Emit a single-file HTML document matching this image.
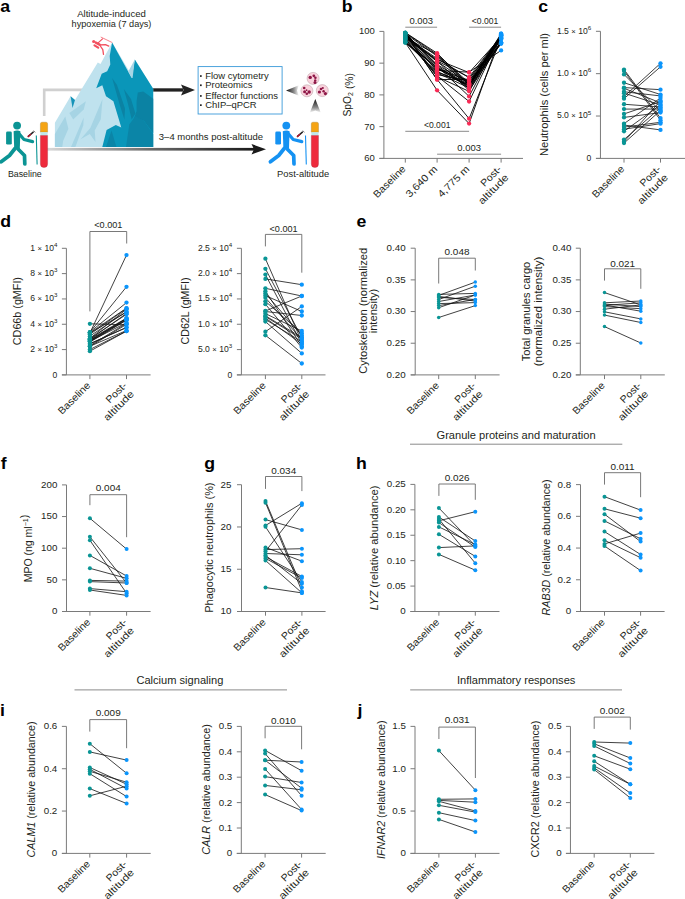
<!DOCTYPE html>
<html><head><meta charset="utf-8"><title>Figure</title>
<style>
html,body{margin:0;padding:0;background:#fff;}
svg{display:block;}
text{font-family:"Liberation Sans",sans-serif;}
</style></head><body>
<svg width="685" height="899" viewBox="0 0 685 899">
<rect width="685" height="899" fill="#fff"/>
<text transform="translate(0.30,12.20) scale(1.040,1)" font-size="17" text-anchor="start" font-weight="bold" fill="#000">a</text>
<text transform="translate(111.50,16.60) scale(1.030,1)" font-size="9.3" text-anchor="middle" font-weight="normal" fill="#231f20">Altitude-induced</text>
<text transform="translate(111.50,26.50) scale(0.985,1)" font-size="9.3" text-anchor="middle" font-weight="normal" fill="#231f20">hypoxemia (7 days)</text>
<defs>
<linearGradient id="g1" x1="0" y1="0" x2="1" y2="0"><stop offset="0" stop-color="#cfcfcf"/><stop offset="0.45" stop-color="#9a9a9a"/><stop offset="1" stop-color="#1a1a1a"/></linearGradient>
<linearGradient id="g2" x1="0" y1="0" x2="1" y2="0"><stop offset="0" stop-color="#d8d8d8"/><stop offset="0.5" stop-color="#6a6a6a"/><stop offset="1" stop-color="#1a1a1a"/></linearGradient>
<linearGradient id="g3" x1="1" y1="0" x2="0" y2="0"><stop offset="0" stop-color="#ffffff"/><stop offset="0.4" stop-color="#888"/><stop offset="1" stop-color="#111"/></linearGradient>
<linearGradient id="g4" x1="0" y1="1" x2="0" y2="0"><stop offset="0" stop-color="#ffffff"/><stop offset="0.4" stop-color="#888"/><stop offset="1" stop-color="#111"/></linearGradient>
</defs>
<polyline points="44.2,116 44.2,89.9 152,89.9" fill="none" stroke="#d0d0d0" stroke-width="2.6"/>
<rect x="150" y="88.3" width="33" height="3.3" fill="#222"/>
<polygon points="181,84.6 195,90.1 181,95.6 183.5,90.1" fill="#222"/>
<rect x="47" y="147.9" width="207" height="2.7" fill="url(#g2)"/>
<polygon points="251.5,144 266,149.2 251.5,154.5 254,149.2" fill="#1a1a1a"/>
<polygon points="112.2,42.6 132.8,77.3 135.1,59.8 153.2,88.7 153.2,147 54.9,147 54.9,122.8 70.6,96.2 75,100 97.8,62.4 100.5,64" fill="#bfe2ee"/>
<polygon points="75,100 70.6,96.2 72.5,108" fill="#1593b8"/>
<polygon points="69.3,113 85.9,101.2 83.7,109.5 73.2,119.6" fill="#a6d4e4"/>
<polygon points="54.9,134 65.3,116.5 68.4,128.8 63.1,141 62.3,147 54.9,147" fill="#a6d4e4"/>
<polygon points="71,147 83.7,117.4 83.3,125.3 75.4,147" fill="#a6d4e4"/>
<polygon points="102.5,99 100.8,119.2 94.7,130.5 95.5,141.9 89.8,134 80.6,139.3 90.3,127.9" fill="#a6d4e4"/>
<polygon points="112.1,42.4 131.7,78 134.8,59.6 153.2,88.7 153.2,147 102.3,147 106.6,130 115.8,125 121.3,127.5 113.4,101.2 106,96.3 102.3,85.3 96.2,88.3 101.7,73.7 107.2,71.2 110.3,64.5 109.7,55.9" fill="#0a96b9"/>
<polygon points="128.3,71.5 134.8,59.6 132.6,78 131.7,78" fill="#a8d6e6"/>
<polygon points="112.1,78 117,85 125,108.5 124.4,119.6 119.5,104" fill="#0b82a3"/>
<polygon points="123.8,89 131,99 135.4,113.4 131.7,119.6 128,104" fill="#0b82a3"/>
<polygon points="137.8,92.6 143.3,91.4 153.2,98.8 153.2,133 144,120.8 134.2,118.3 136.6,111 136.6,101.2" fill="#0b82a3"/>
<polygon points="129.3,124.5 135.4,115.9 144,121 153.2,134 153.2,147 126,147" fill="#0b85a7"/>
<polygon points="106,147 111.5,130.6 116.4,147" fill="#0b85a7"/>
<g fill="#f2505f" stroke="#f2505f" stroke-linecap="round" stroke-linejoin="round"><circle cx="93.7" cy="41.5" r="1.6" stroke="none"/><path d="M95.8,42.6 L99.6,44.6" stroke-width="2.4" fill="none"/><path d="M94.5,45.4 L98.2,47.6" stroke-width="2.2" fill="none"/><path d="M97.6,43.4 L102.5,38.9" stroke-width="1.2" fill="none"/><path d="M99.5,45 L105.5,44.6 L108.8,46.1" stroke-width="1.3" fill="none"/><path d="M100,45.5 L102.8,49.6 L103.5,54.3" stroke-width="1.3" fill="none"/><path d="M101.1,37.2 L111.9,42.4" stroke-width="0.7" stroke-dasharray="1.2,0.6" fill="none"/></g>
<rect x="198.1" y="66.6" width="84" height="47.4" fill="#fff" stroke="#3a9ad9" stroke-width="0.9"/>
<rect x="200.0" y="75.2" width="1.7" height="1.7" fill="#222"/>
<text transform="translate(205.20,78.60) scale(1.040,1)" font-size="9.1" text-anchor="start" font-weight="normal" fill="#231f20">Flow cytometry</text>
<rect x="200.0" y="84.4" width="1.7" height="1.7" fill="#222"/>
<text transform="translate(205.20,87.80) scale(1.040,1)" font-size="9.1" text-anchor="start" font-weight="normal" fill="#231f20">Proteomics</text>
<rect x="200.0" y="95.1" width="1.7" height="1.7" fill="#222"/>
<text transform="translate(205.20,98.50) scale(1.040,1)" font-size="9.1" text-anchor="start" font-weight="normal" fill="#231f20">Effector functions</text>
<rect x="200.0" y="104.3" width="1.7" height="1.7" fill="#222"/>
<text transform="translate(205.20,107.70) scale(1.040,1)" font-size="9.1" text-anchor="start" font-weight="normal" fill="#231f20">ChIP–qPCR</text>
<polygon points="286,90.5 299,85.2 297,90.5 299,95.8" fill="url(#g3)"/>
<polygon points="315.3,99 309.8,112.8 315.3,110.6 320.8,112.8" fill="url(#g4)"/>
<circle cx="313.1" cy="78.4" r="6.0" fill="#f9d2dc" stroke="#bfa6ad" stroke-width="0.6"/>
<circle cx="306.9" cy="90.8" r="6.0" fill="#f9d2dc" stroke="#bfa6ad" stroke-width="0.6"/>
<circle cx="322.3" cy="90.6" r="6.0" fill="#f9d2dc" stroke="#bfa6ad" stroke-width="0.6"/>
<circle cx="310.2" cy="77.4" r="1.7" fill="#8e1747"/>
<circle cx="313.8" cy="75.8" r="1.4" fill="#8e1747"/>
<circle cx="315.4" cy="77.8" r="1.3" fill="#8e1747"/>
<circle cx="315.2" cy="80.4" r="1.2" fill="#8e1747"/>
<circle cx="315.0" cy="82.6" r="1.5" fill="#8e1747"/>
<circle cx="304.2" cy="88.0" r="1.3" fill="#8e1747"/>
<circle cx="304.6" cy="91.8" r="1.5" fill="#8e1747"/>
<circle cx="306.8" cy="93.8" r="1.3" fill="#8e1747"/>
<circle cx="309.2" cy="92.0" r="1.7" fill="#8e1747"/>
<circle cx="306.6" cy="90.2" r="0.9" fill="#8e1747"/>
<circle cx="319.4" cy="92.0" r="1.6" fill="#8e1747"/>
<circle cx="321.0" cy="89.0" r="1.3" fill="#8e1747"/>
<circle cx="322.8" cy="88.0" r="1.1" fill="#8e1747"/>
<circle cx="323.6" cy="91.2" r="1.2" fill="#8e1747"/>
<circle cx="325.4" cy="93.6" r="1.6" fill="#8e1747"/>
<g transform="translate(0.00,0)">
<circle cx="17.1" cy="125.6" r="3.9" fill="#0b9494"/>
<rect x="6.1" y="131.5" width="5.7" height="13.1" rx="1.4" fill="#0b9494"/>
<path d="M13.6,131.2 Q17,130 20.4,131.2 L19.8,148.5 Q17,150.5 14.2,148.5 Z" fill="#0b9494"/>
<path d="M18,132.5 L24,139.5 L32.6,141.6" stroke="#0b9494" stroke-width="3.2" stroke-linecap="round" stroke-linejoin="round" fill="none"/>
<path d="M15,148.5 L9.5,155.5 L1.2,161.8" stroke="#0b9494" stroke-width="3.7" stroke-linecap="round" stroke-linejoin="round" fill="none"/>
<path d="M18,149 L24.5,155.5 L24.8,164" stroke="#0b9494" stroke-width="3.7" stroke-linecap="round" stroke-linejoin="round" fill="none"/>
<path d="M36.3,135.4 L37.1,164.6" stroke="#0b9494" stroke-width="1.1"/>
<path d="M28.3,136.4 L33.2,132.1" stroke="#222" stroke-width="1.4" stroke-linecap="round"/>
<path d="M28.3,136.4 L30.5,134.5" stroke="#b0162e" stroke-width="1.5" stroke-linecap="round"/>
<path d="M33.6,130.6 L35.2,132.4" stroke="#222" stroke-width="0.6"/>
</g>
<g transform="translate(269.20,0)">
<circle cx="17.1" cy="125.6" r="3.9" fill="#1592f2"/>
<rect x="6.1" y="131.5" width="5.7" height="13.1" rx="1.4" fill="#1592f2"/>
<path d="M13.6,131.2 Q17,130 20.4,131.2 L19.8,148.5 Q17,150.5 14.2,148.5 Z" fill="#1592f2"/>
<path d="M18,132.5 L24,139.5 L32.6,141.6" stroke="#1592f2" stroke-width="3.2" stroke-linecap="round" stroke-linejoin="round" fill="none"/>
<path d="M15,148.5 L9.5,155.5 L1.2,161.8" stroke="#1592f2" stroke-width="3.7" stroke-linecap="round" stroke-linejoin="round" fill="none"/>
<path d="M18,149 L24.5,155.5 L24.8,164" stroke="#1592f2" stroke-width="3.7" stroke-linecap="round" stroke-linejoin="round" fill="none"/>
<path d="M36.3,135.4 L37.1,164.6" stroke="#1592f2" stroke-width="1.1"/>
<path d="M28.3,136.4 L33.2,132.1" stroke="#222" stroke-width="1.4" stroke-linecap="round"/>
<path d="M28.3,136.4 L30.5,134.5" stroke="#b0162e" stroke-width="1.5" stroke-linecap="round"/>
<path d="M33.6,130.6 L35.2,132.4" stroke="#222" stroke-width="0.6"/>
</g>
<path d="M40.40,123.8 a1.6,1.6 0 0 1 1.6,-1.6 h4.0 a1.6,1.6 0 0 1 1.6,1.6 V132.2 H40.40 Z" fill="#f5a413" stroke="#8a6a20" stroke-width="0.3"/>
<rect x="40.40" y="132.2" width="7.2" height="3.3" fill="#bfe8ea"/>
<path d="M40.40,135.5 h7.2 V164 a3.6,3.6 0 0 1 -7.2,0 Z" fill="#ee2a3c" stroke="#9a2030" stroke-width="0.3"/>
<path d="M311.30,123.8 a1.6,1.6 0 0 1 1.6,-1.6 h4.0 a1.6,1.6 0 0 1 1.6,1.6 V132.2 H311.30 Z" fill="#f5a413" stroke="#8a6a20" stroke-width="0.3"/>
<rect x="311.30" y="132.2" width="7.2" height="3.3" fill="#bfe8ea"/>
<path d="M311.30,135.5 h7.2 V164 a3.6,3.6 0 0 1 -7.2,0 Z" fill="#ee2a3c" stroke="#9a2030" stroke-width="0.3"/>
<text transform="translate(24.80,177.40) scale(0.980,1)" font-size="9" text-anchor="middle" font-weight="normal" fill="#231f20">Baseline</text>
<text transform="translate(303.10,177.20) scale(1.040,1)" font-size="9" text-anchor="middle" font-weight="normal" fill="#231f20">Post-altitude</text>
<text transform="translate(158.80,140.40) scale(1.035,1)" font-size="9.2" text-anchor="start" font-weight="normal" fill="#231f20">3–4 months post-altitude</text>
<text transform="translate(341.80,12.20) scale(1.040,1)" font-size="17" text-anchor="start" font-weight="bold" fill="#000">b</text>
<line x1="383.90" y1="31.40" x2="383.90" y2="158.40" stroke="#7a7a7a" stroke-width="1"/>
<line x1="379.40" y1="158.40" x2="523.00" y2="158.40" stroke="#7a7a7a" stroke-width="1"/>
<line x1="379.40" y1="31.40" x2="383.90" y2="31.40" stroke="#7a7a7a" stroke-width="1"/>
<text transform="translate(374.80,34.30) scale(1.020,1)" font-size="9.3" text-anchor="end" font-weight="normal" fill="#231f20">100</text>
<line x1="379.40" y1="63.15" x2="383.90" y2="63.15" stroke="#7a7a7a" stroke-width="1"/>
<text transform="translate(374.80,66.05) scale(1.020,1)" font-size="9.3" text-anchor="end" font-weight="normal" fill="#231f20">90</text>
<line x1="379.40" y1="94.90" x2="383.90" y2="94.90" stroke="#7a7a7a" stroke-width="1"/>
<text transform="translate(374.80,97.80) scale(1.020,1)" font-size="9.3" text-anchor="end" font-weight="normal" fill="#231f20">80</text>
<line x1="379.40" y1="126.65" x2="383.90" y2="126.65" stroke="#7a7a7a" stroke-width="1"/>
<text transform="translate(374.80,129.55) scale(1.020,1)" font-size="9.3" text-anchor="end" font-weight="normal" fill="#231f20">70</text>
<line x1="379.40" y1="158.40" x2="383.90" y2="158.40" stroke="#7a7a7a" stroke-width="1"/>
<text transform="translate(374.80,161.30) scale(1.020,1)" font-size="9.3" text-anchor="end" font-weight="normal" fill="#231f20">60</text>
<line x1="405.30" y1="158.40" x2="405.30" y2="162.60" stroke="#7a7a7a" stroke-width="1"/>
<line x1="437.10" y1="158.40" x2="437.10" y2="162.60" stroke="#7a7a7a" stroke-width="1"/>
<line x1="469.10" y1="158.40" x2="469.10" y2="162.60" stroke="#7a7a7a" stroke-width="1"/>
<line x1="501.10" y1="158.40" x2="501.10" y2="162.60" stroke="#7a7a7a" stroke-width="1"/>
<text transform="translate(406.30,169.60) rotate(-45) scale(1.069,1)" font-size="10" text-anchor="end" font-weight="normal" fill="#231f20">Baseline</text>
<text transform="translate(438.10,169.60) rotate(-45) scale(1.115,1)" font-size="10" text-anchor="end" font-weight="normal" fill="#231f20">3,640 m</text>
<text transform="translate(470.10,169.60) rotate(-45) scale(1.115,1)" font-size="10" text-anchor="end" font-weight="normal" fill="#231f20">4,775 m</text>
<text transform="translate(502.10,169.60) rotate(-45) scale(1.071,1)" font-size="10" text-anchor="end" font-weight="normal" fill="#231f20">Post-</text>
<text transform="translate(509.28,177.98) rotate(-45) scale(1.188,1)" font-size="10" text-anchor="end" font-weight="normal" fill="#231f20">altitude</text>
<text transform="translate(351.00,94.80) rotate(-90) scale(0.939,1)" font-size="11" text-anchor="middle" font-weight="normal" fill="#231f20"><tspan>SpO</tspan><tspan dy="2.2" font-size="7.48">2</tspan><tspan dy="-2.2"></tspan><tspan> (%)</tspan></text>
<line x1="405.30" y1="27.20" x2="437.10" y2="27.20" stroke="#8a8a8a" stroke-width="1"/>
<line x1="469.10" y1="27.20" x2="501.10" y2="27.20" stroke="#8a8a8a" stroke-width="1"/>
<text transform="translate(421.20,23.60) scale(1.100,1)" font-size="8.6" text-anchor="middle" font-weight="normal" fill="#231f20">0.003</text>
<text transform="translate(485.10,23.60)" font-size="8.6" text-anchor="middle" font-weight="normal" fill="#231f20">&lt;0.001</text>
<line x1="405.30" y1="131.30" x2="469.10" y2="131.30" stroke="#8a8a8a" stroke-width="1"/>
<text transform="translate(437.20,128.20)" font-size="8.6" text-anchor="middle" font-weight="normal" fill="#231f20">&lt;0.001</text>
<line x1="437.10" y1="154.20" x2="501.10" y2="154.20" stroke="#8a8a8a" stroke-width="1"/>
<text transform="translate(469.10,151.00) scale(1.100,1)" font-size="8.6" text-anchor="middle" font-weight="normal" fill="#231f20">0.003</text>
<polyline points="405.30,42.50 437.10,90.30 469.10,123.60 501.10,33.65" fill="none" stroke="#000" stroke-width="0.9"/>
<polyline points="405.30,33.98 437.10,79.50 469.10,118.70 501.10,38.43" fill="none" stroke="#000" stroke-width="0.9"/>
<polyline points="405.30,39.23 437.10,76.00 469.10,101.50 501.10,35.23" fill="none" stroke="#000" stroke-width="0.9"/>
<polyline points="405.30,33.16 437.10,66.00 469.10,96.40 501.10,34.68" fill="none" stroke="#000" stroke-width="0.9"/>
<polyline points="405.30,38.03 437.10,70.38 469.10,72.19 501.10,50.40" fill="none" stroke="#000" stroke-width="0.9"/>
<polyline points="405.30,32.60 437.10,53.20 469.10,84.83 501.10,33.60" fill="none" stroke="#000" stroke-width="0.9"/>
<polyline points="405.30,33.01 437.10,67.90 469.10,86.77 501.10,34.81" fill="none" stroke="#000" stroke-width="0.9"/>
<polyline points="405.30,37.73 437.10,54.71 469.10,82.92 501.10,36.10" fill="none" stroke="#000" stroke-width="0.9"/>
<polyline points="405.30,32.79 437.10,54.62 469.10,89.00 501.10,37.66" fill="none" stroke="#000" stroke-width="0.9"/>
<polyline points="405.30,36.95 437.10,58.60 469.10,77.71 501.10,42.90" fill="none" stroke="#000" stroke-width="0.9"/>
<polyline points="405.30,33.13 437.10,71.51 469.10,85.38 501.10,34.28" fill="none" stroke="#000" stroke-width="0.9"/>
<polyline points="405.30,33.35 437.10,64.63 469.10,83.35 501.10,38.30" fill="none" stroke="#000" stroke-width="0.9"/>
<polyline points="405.30,36.86 437.10,61.54 469.10,83.06 501.10,39.39" fill="none" stroke="#000" stroke-width="0.9"/>
<polyline points="405.30,41.08 437.10,68.93 469.10,80.57 501.10,43.03" fill="none" stroke="#000" stroke-width="0.9"/>
<polyline points="405.30,33.70 437.10,65.33 469.10,88.28 501.10,42.33" fill="none" stroke="#000" stroke-width="0.9"/>
<polyline points="405.30,34.74 437.10,61.15 469.10,90.39 501.10,42.82" fill="none" stroke="#000" stroke-width="0.9"/>
<polyline points="405.30,38.99 437.10,74.61 469.10,80.93 501.10,36.43" fill="none" stroke="#000" stroke-width="0.9"/>
<polyline points="405.30,42.35 437.10,72.01 469.10,84.75 501.10,37.93" fill="none" stroke="#000" stroke-width="0.9"/>
<polyline points="405.30,38.46 437.10,59.64 469.10,72.62 501.10,37.31" fill="none" stroke="#000" stroke-width="0.9"/>
<polyline points="405.30,36.57 437.10,68.62 469.10,85.50 501.10,43.04" fill="none" stroke="#000" stroke-width="0.9"/>
<polyline points="405.30,42.65 437.10,67.29 469.10,84.41 501.10,43.84" fill="none" stroke="#000" stroke-width="0.9"/>
<polyline points="405.30,32.89 437.10,76.80 469.10,91.36 501.10,35.05" fill="none" stroke="#000" stroke-width="0.9"/>
<polyline points="405.30,41.41 437.10,72.84 469.10,87.92 501.10,35.32" fill="none" stroke="#000" stroke-width="0.9"/>
<polyline points="405.30,35.44 437.10,60.83 469.10,77.12 501.10,35.93" fill="none" stroke="#000" stroke-width="0.9"/>
<polyline points="405.30,33.91 437.10,79.66 469.10,79.15 501.10,35.94" fill="none" stroke="#000" stroke-width="0.9"/>
<polyline points="405.30,33.64 437.10,56.21 469.10,84.84 501.10,38.69" fill="none" stroke="#000" stroke-width="0.9"/>
<circle cx="405.30" cy="42.50" r="2.15" fill="#0a9595"/>
<circle cx="437.10" cy="90.30" r="2.15" fill="#fa2a55"/>
<circle cx="469.10" cy="123.60" r="2.15" fill="#fa2a55"/>
<circle cx="501.10" cy="33.65" r="2.15" fill="#0b95fb"/>
<circle cx="405.30" cy="33.98" r="2.15" fill="#0a9595"/>
<circle cx="437.10" cy="79.50" r="2.15" fill="#fa2a55"/>
<circle cx="469.10" cy="118.70" r="2.15" fill="#fa2a55"/>
<circle cx="501.10" cy="38.43" r="2.15" fill="#0b95fb"/>
<circle cx="405.30" cy="39.23" r="2.15" fill="#0a9595"/>
<circle cx="437.10" cy="76.00" r="2.15" fill="#fa2a55"/>
<circle cx="469.10" cy="101.50" r="2.15" fill="#fa2a55"/>
<circle cx="501.10" cy="35.23" r="2.15" fill="#0b95fb"/>
<circle cx="405.30" cy="33.16" r="2.15" fill="#0a9595"/>
<circle cx="437.10" cy="66.00" r="2.15" fill="#fa2a55"/>
<circle cx="469.10" cy="96.40" r="2.15" fill="#fa2a55"/>
<circle cx="501.10" cy="34.68" r="2.15" fill="#0b95fb"/>
<circle cx="405.30" cy="38.03" r="2.15" fill="#0a9595"/>
<circle cx="437.10" cy="70.38" r="2.15" fill="#fa2a55"/>
<circle cx="469.10" cy="72.19" r="2.15" fill="#fa2a55"/>
<circle cx="501.10" cy="50.40" r="2.15" fill="#0b95fb"/>
<circle cx="405.30" cy="32.60" r="2.15" fill="#0a9595"/>
<circle cx="437.10" cy="53.20" r="2.15" fill="#fa2a55"/>
<circle cx="469.10" cy="84.83" r="2.15" fill="#fa2a55"/>
<circle cx="501.10" cy="33.60" r="2.15" fill="#0b95fb"/>
<circle cx="405.30" cy="33.01" r="2.15" fill="#0a9595"/>
<circle cx="437.10" cy="67.90" r="2.15" fill="#fa2a55"/>
<circle cx="469.10" cy="86.77" r="2.15" fill="#fa2a55"/>
<circle cx="501.10" cy="34.81" r="2.15" fill="#0b95fb"/>
<circle cx="405.30" cy="37.73" r="2.15" fill="#0a9595"/>
<circle cx="437.10" cy="54.71" r="2.15" fill="#fa2a55"/>
<circle cx="469.10" cy="82.92" r="2.15" fill="#fa2a55"/>
<circle cx="501.10" cy="36.10" r="2.15" fill="#0b95fb"/>
<circle cx="405.30" cy="32.79" r="2.15" fill="#0a9595"/>
<circle cx="437.10" cy="54.62" r="2.15" fill="#fa2a55"/>
<circle cx="469.10" cy="89.00" r="2.15" fill="#fa2a55"/>
<circle cx="501.10" cy="37.66" r="2.15" fill="#0b95fb"/>
<circle cx="405.30" cy="36.95" r="2.15" fill="#0a9595"/>
<circle cx="437.10" cy="58.60" r="2.15" fill="#fa2a55"/>
<circle cx="469.10" cy="77.71" r="2.15" fill="#fa2a55"/>
<circle cx="501.10" cy="42.90" r="2.15" fill="#0b95fb"/>
<circle cx="405.30" cy="33.13" r="2.15" fill="#0a9595"/>
<circle cx="437.10" cy="71.51" r="2.15" fill="#fa2a55"/>
<circle cx="469.10" cy="85.38" r="2.15" fill="#fa2a55"/>
<circle cx="501.10" cy="34.28" r="2.15" fill="#0b95fb"/>
<circle cx="405.30" cy="33.35" r="2.15" fill="#0a9595"/>
<circle cx="437.10" cy="64.63" r="2.15" fill="#fa2a55"/>
<circle cx="469.10" cy="83.35" r="2.15" fill="#fa2a55"/>
<circle cx="501.10" cy="38.30" r="2.15" fill="#0b95fb"/>
<circle cx="405.30" cy="36.86" r="2.15" fill="#0a9595"/>
<circle cx="437.10" cy="61.54" r="2.15" fill="#fa2a55"/>
<circle cx="469.10" cy="83.06" r="2.15" fill="#fa2a55"/>
<circle cx="501.10" cy="39.39" r="2.15" fill="#0b95fb"/>
<circle cx="405.30" cy="41.08" r="2.15" fill="#0a9595"/>
<circle cx="437.10" cy="68.93" r="2.15" fill="#fa2a55"/>
<circle cx="469.10" cy="80.57" r="2.15" fill="#fa2a55"/>
<circle cx="501.10" cy="43.03" r="2.15" fill="#0b95fb"/>
<circle cx="405.30" cy="33.70" r="2.15" fill="#0a9595"/>
<circle cx="437.10" cy="65.33" r="2.15" fill="#fa2a55"/>
<circle cx="469.10" cy="88.28" r="2.15" fill="#fa2a55"/>
<circle cx="501.10" cy="42.33" r="2.15" fill="#0b95fb"/>
<circle cx="405.30" cy="34.74" r="2.15" fill="#0a9595"/>
<circle cx="437.10" cy="61.15" r="2.15" fill="#fa2a55"/>
<circle cx="469.10" cy="90.39" r="2.15" fill="#fa2a55"/>
<circle cx="501.10" cy="42.82" r="2.15" fill="#0b95fb"/>
<circle cx="405.30" cy="38.99" r="2.15" fill="#0a9595"/>
<circle cx="437.10" cy="74.61" r="2.15" fill="#fa2a55"/>
<circle cx="469.10" cy="80.93" r="2.15" fill="#fa2a55"/>
<circle cx="501.10" cy="36.43" r="2.15" fill="#0b95fb"/>
<circle cx="405.30" cy="42.35" r="2.15" fill="#0a9595"/>
<circle cx="437.10" cy="72.01" r="2.15" fill="#fa2a55"/>
<circle cx="469.10" cy="84.75" r="2.15" fill="#fa2a55"/>
<circle cx="501.10" cy="37.93" r="2.15" fill="#0b95fb"/>
<circle cx="405.30" cy="38.46" r="2.15" fill="#0a9595"/>
<circle cx="437.10" cy="59.64" r="2.15" fill="#fa2a55"/>
<circle cx="469.10" cy="72.62" r="2.15" fill="#fa2a55"/>
<circle cx="501.10" cy="37.31" r="2.15" fill="#0b95fb"/>
<circle cx="405.30" cy="36.57" r="2.15" fill="#0a9595"/>
<circle cx="437.10" cy="68.62" r="2.15" fill="#fa2a55"/>
<circle cx="469.10" cy="85.50" r="2.15" fill="#fa2a55"/>
<circle cx="501.10" cy="43.04" r="2.15" fill="#0b95fb"/>
<circle cx="405.30" cy="42.65" r="2.15" fill="#0a9595"/>
<circle cx="437.10" cy="67.29" r="2.15" fill="#fa2a55"/>
<circle cx="469.10" cy="84.41" r="2.15" fill="#fa2a55"/>
<circle cx="501.10" cy="43.84" r="2.15" fill="#0b95fb"/>
<circle cx="405.30" cy="32.89" r="2.15" fill="#0a9595"/>
<circle cx="437.10" cy="76.80" r="2.15" fill="#fa2a55"/>
<circle cx="469.10" cy="91.36" r="2.15" fill="#fa2a55"/>
<circle cx="501.10" cy="35.05" r="2.15" fill="#0b95fb"/>
<circle cx="405.30" cy="41.41" r="2.15" fill="#0a9595"/>
<circle cx="437.10" cy="72.84" r="2.15" fill="#fa2a55"/>
<circle cx="469.10" cy="87.92" r="2.15" fill="#fa2a55"/>
<circle cx="501.10" cy="35.32" r="2.15" fill="#0b95fb"/>
<circle cx="405.30" cy="35.44" r="2.15" fill="#0a9595"/>
<circle cx="437.10" cy="60.83" r="2.15" fill="#fa2a55"/>
<circle cx="469.10" cy="77.12" r="2.15" fill="#fa2a55"/>
<circle cx="501.10" cy="35.93" r="2.15" fill="#0b95fb"/>
<circle cx="405.30" cy="33.91" r="2.15" fill="#0a9595"/>
<circle cx="437.10" cy="79.66" r="2.15" fill="#fa2a55"/>
<circle cx="469.10" cy="79.15" r="2.15" fill="#fa2a55"/>
<circle cx="501.10" cy="35.94" r="2.15" fill="#0b95fb"/>
<circle cx="405.30" cy="33.64" r="2.15" fill="#0a9595"/>
<circle cx="437.10" cy="56.21" r="2.15" fill="#fa2a55"/>
<circle cx="469.10" cy="84.84" r="2.15" fill="#fa2a55"/>
<circle cx="501.10" cy="38.69" r="2.15" fill="#0b95fb"/>
<text transform="translate(538.20,12.30) scale(1.040,1)" font-size="17" text-anchor="start" font-weight="bold" fill="#000">c</text>
<line x1="600.45" y1="31.31" x2="600.45" y2="158.40" stroke="#7a7a7a" stroke-width="1"/>
<line x1="595.95" y1="158.40" x2="685.00" y2="158.40" stroke="#7a7a7a" stroke-width="1"/>
<line x1="595.95" y1="31.31" x2="600.45" y2="31.31" stroke="#7a7a7a" stroke-width="1"/>
<text transform="translate(591.20,33.71)" font-size="8.6" text-anchor="end" font-weight="normal" fill="#231f20">1.5 <tspan font-size="7.74">×</tspan> 10<tspan dy="-3.9" font-size="6.192">6</tspan></text>
<line x1="595.95" y1="73.67" x2="600.45" y2="73.67" stroke="#7a7a7a" stroke-width="1"/>
<text transform="translate(591.20,76.07)" font-size="8.6" text-anchor="end" font-weight="normal" fill="#231f20">1.0 <tspan font-size="7.74">×</tspan> 10<tspan dy="-3.9" font-size="6.192">6</tspan></text>
<line x1="595.95" y1="116.03" x2="600.45" y2="116.03" stroke="#7a7a7a" stroke-width="1"/>
<text transform="translate(591.20,118.44)" font-size="8.6" text-anchor="end" font-weight="normal" fill="#231f20">5.0 <tspan font-size="7.74">×</tspan> 10<tspan dy="-3.9" font-size="6.192">5</tspan></text>
<line x1="595.95" y1="158.40" x2="600.45" y2="158.40" stroke="#7a7a7a" stroke-width="1"/>
<text transform="translate(591.20,161.30)" font-size="8.6" text-anchor="end" font-weight="normal" fill="#231f20">0</text>
<line x1="624.00" y1="158.40" x2="624.00" y2="162.60" stroke="#7a7a7a" stroke-width="1"/>
<line x1="660.50" y1="158.40" x2="660.50" y2="162.60" stroke="#7a7a7a" stroke-width="1"/>
<text transform="translate(625.00,169.60) rotate(-45) scale(1.069,1)" font-size="10" text-anchor="end" font-weight="normal" fill="#231f20">Baseline</text>
<text transform="translate(661.50,169.60) rotate(-45) scale(1.071,1)" font-size="10" text-anchor="end" font-weight="normal" fill="#231f20">Post-</text>
<text transform="translate(668.68,177.98) rotate(-45) scale(1.188,1)" font-size="10" text-anchor="end" font-weight="normal" fill="#231f20">altitude</text>
<text transform="translate(547.80,94.50) rotate(-90) scale(1.093,1)" font-size="10.2" text-anchor="middle" font-weight="normal" fill="#231f20"><tspan>Neutrophils (cells per ml)</tspan></text>
<line x1="624.00" y1="69.56" x2="660.50" y2="118.11" stroke="#111" stroke-width="0.8"/>
<line x1="624.00" y1="70.95" x2="660.50" y2="120.19" stroke="#111" stroke-width="0.8"/>
<line x1="624.00" y1="74.42" x2="660.50" y2="111.17" stroke="#111" stroke-width="0.8"/>
<line x1="624.00" y1="82.74" x2="660.50" y2="94.53" stroke="#111" stroke-width="0.8"/>
<line x1="624.00" y1="87.59" x2="660.50" y2="89.67" stroke="#111" stroke-width="0.8"/>
<line x1="624.00" y1="88.29" x2="660.50" y2="102.85" stroke="#111" stroke-width="0.8"/>
<line x1="624.00" y1="91.75" x2="660.50" y2="95.92" stroke="#111" stroke-width="0.8"/>
<line x1="624.00" y1="93.14" x2="660.50" y2="104.93" stroke="#111" stroke-width="0.8"/>
<line x1="624.00" y1="96.61" x2="660.50" y2="63.32" stroke="#111" stroke-width="0.8"/>
<line x1="624.00" y1="98.69" x2="660.50" y2="66.79" stroke="#111" stroke-width="0.8"/>
<line x1="624.00" y1="104.24" x2="660.50" y2="107.01" stroke="#111" stroke-width="0.8"/>
<line x1="624.00" y1="109.09" x2="660.50" y2="109.09" stroke="#111" stroke-width="0.8"/>
<line x1="624.00" y1="113.95" x2="660.50" y2="101.46" stroke="#111" stroke-width="0.8"/>
<line x1="624.00" y1="117.41" x2="660.50" y2="112.56" stroke="#111" stroke-width="0.8"/>
<line x1="624.00" y1="123.65" x2="660.50" y2="98.00" stroke="#111" stroke-width="0.8"/>
<line x1="624.00" y1="125.04" x2="660.50" y2="129.90" stroke="#111" stroke-width="0.8"/>
<line x1="624.00" y1="127.12" x2="660.50" y2="122.27" stroke="#111" stroke-width="0.8"/>
<line x1="624.00" y1="129.20" x2="660.50" y2="123.65" stroke="#111" stroke-width="0.8"/>
<line x1="624.00" y1="131.28" x2="660.50" y2="104.93" stroke="#111" stroke-width="0.8"/>
<line x1="624.00" y1="139.60" x2="660.50" y2="107.70" stroke="#111" stroke-width="0.8"/>
<line x1="624.00" y1="141.69" x2="660.50" y2="100.77" stroke="#111" stroke-width="0.8"/>
<line x1="624.00" y1="143.07" x2="660.50" y2="110.48" stroke="#111" stroke-width="0.8"/>
<circle cx="624.00" cy="69.56" r="2.15" fill="#0a9595"/>
<circle cx="624.00" cy="70.95" r="2.15" fill="#0a9595"/>
<circle cx="624.00" cy="74.42" r="2.15" fill="#0a9595"/>
<circle cx="624.00" cy="82.74" r="2.15" fill="#0a9595"/>
<circle cx="624.00" cy="87.59" r="2.15" fill="#0a9595"/>
<circle cx="624.00" cy="88.29" r="2.15" fill="#0a9595"/>
<circle cx="624.00" cy="91.75" r="2.15" fill="#0a9595"/>
<circle cx="624.00" cy="93.14" r="2.15" fill="#0a9595"/>
<circle cx="624.00" cy="96.61" r="2.15" fill="#0a9595"/>
<circle cx="624.00" cy="98.69" r="2.15" fill="#0a9595"/>
<circle cx="624.00" cy="104.24" r="2.15" fill="#0a9595"/>
<circle cx="624.00" cy="109.09" r="2.15" fill="#0a9595"/>
<circle cx="624.00" cy="113.95" r="2.15" fill="#0a9595"/>
<circle cx="624.00" cy="117.41" r="2.15" fill="#0a9595"/>
<circle cx="624.00" cy="123.65" r="2.15" fill="#0a9595"/>
<circle cx="624.00" cy="125.04" r="2.15" fill="#0a9595"/>
<circle cx="624.00" cy="127.12" r="2.15" fill="#0a9595"/>
<circle cx="624.00" cy="129.20" r="2.15" fill="#0a9595"/>
<circle cx="624.00" cy="131.28" r="2.15" fill="#0a9595"/>
<circle cx="624.00" cy="139.60" r="2.15" fill="#0a9595"/>
<circle cx="624.00" cy="141.69" r="2.15" fill="#0a9595"/>
<circle cx="624.00" cy="143.07" r="2.15" fill="#0a9595"/>
<circle cx="660.50" cy="118.11" r="2.15" fill="#0b95fb"/>
<circle cx="660.50" cy="120.19" r="2.15" fill="#0b95fb"/>
<circle cx="660.50" cy="111.17" r="2.15" fill="#0b95fb"/>
<circle cx="660.50" cy="94.53" r="2.15" fill="#0b95fb"/>
<circle cx="660.50" cy="89.67" r="2.15" fill="#0b95fb"/>
<circle cx="660.50" cy="102.85" r="2.15" fill="#0b95fb"/>
<circle cx="660.50" cy="95.92" r="2.15" fill="#0b95fb"/>
<circle cx="660.50" cy="104.93" r="2.15" fill="#0b95fb"/>
<circle cx="660.50" cy="63.32" r="2.15" fill="#0b95fb"/>
<circle cx="660.50" cy="66.79" r="2.15" fill="#0b95fb"/>
<circle cx="660.50" cy="107.01" r="2.15" fill="#0b95fb"/>
<circle cx="660.50" cy="109.09" r="2.15" fill="#0b95fb"/>
<circle cx="660.50" cy="101.46" r="2.15" fill="#0b95fb"/>
<circle cx="660.50" cy="112.56" r="2.15" fill="#0b95fb"/>
<circle cx="660.50" cy="98.00" r="2.15" fill="#0b95fb"/>
<circle cx="660.50" cy="129.90" r="2.15" fill="#0b95fb"/>
<circle cx="660.50" cy="122.27" r="2.15" fill="#0b95fb"/>
<circle cx="660.50" cy="123.65" r="2.15" fill="#0b95fb"/>
<circle cx="660.50" cy="104.93" r="2.15" fill="#0b95fb"/>
<circle cx="660.50" cy="107.70" r="2.15" fill="#0b95fb"/>
<circle cx="660.50" cy="100.77" r="2.15" fill="#0b95fb"/>
<circle cx="660.50" cy="110.48" r="2.15" fill="#0b95fb"/>
<text transform="translate(0.30,227.20) scale(1.040,1)" font-size="17" text-anchor="start" font-weight="bold" fill="#000">d</text>
<line x1="66.40" y1="248.30" x2="66.40" y2="374.90" stroke="#7a7a7a" stroke-width="1"/>
<line x1="61.90" y1="374.90" x2="150.60" y2="374.90" stroke="#7a7a7a" stroke-width="1"/>
<line x1="61.90" y1="248.30" x2="66.40" y2="248.30" stroke="#7a7a7a" stroke-width="1"/>
<text transform="translate(57.40,250.70)" font-size="8.6" text-anchor="end" font-weight="normal" fill="#231f20">1 <tspan font-size="7.74">×</tspan> 10<tspan dy="-3.9" font-size="6.192">4</tspan></text>
<line x1="61.90" y1="273.62" x2="66.40" y2="273.62" stroke="#7a7a7a" stroke-width="1"/>
<text transform="translate(57.40,276.02)" font-size="8.6" text-anchor="end" font-weight="normal" fill="#231f20">8 <tspan font-size="7.74">×</tspan> 10<tspan dy="-3.9" font-size="6.192">3</tspan></text>
<line x1="61.90" y1="298.94" x2="66.40" y2="298.94" stroke="#7a7a7a" stroke-width="1"/>
<text transform="translate(57.40,301.34)" font-size="8.6" text-anchor="end" font-weight="normal" fill="#231f20">6 <tspan font-size="7.74">×</tspan> 10<tspan dy="-3.9" font-size="6.192">3</tspan></text>
<line x1="61.90" y1="324.26" x2="66.40" y2="324.26" stroke="#7a7a7a" stroke-width="1"/>
<text transform="translate(57.40,326.66)" font-size="8.6" text-anchor="end" font-weight="normal" fill="#231f20">4 <tspan font-size="7.74">×</tspan> 10<tspan dy="-3.9" font-size="6.192">3</tspan></text>
<line x1="61.90" y1="349.58" x2="66.40" y2="349.58" stroke="#7a7a7a" stroke-width="1"/>
<text transform="translate(57.40,351.98)" font-size="8.6" text-anchor="end" font-weight="normal" fill="#231f20">2 <tspan font-size="7.74">×</tspan> 10<tspan dy="-3.9" font-size="6.192">3</tspan></text>
<line x1="61.90" y1="374.90" x2="66.40" y2="374.90" stroke="#7a7a7a" stroke-width="1"/>
<text transform="translate(57.40,377.80)" font-size="8.6" text-anchor="end" font-weight="normal" fill="#231f20">0</text>
<line x1="89.90" y1="374.90" x2="89.90" y2="379.10" stroke="#7a7a7a" stroke-width="1"/>
<line x1="126.50" y1="374.90" x2="126.50" y2="379.10" stroke="#7a7a7a" stroke-width="1"/>
<text transform="translate(90.90,386.10) rotate(-45) scale(1.069,1)" font-size="10" text-anchor="end" font-weight="normal" fill="#231f20">Baseline</text>
<text transform="translate(127.50,386.10) rotate(-45) scale(1.071,1)" font-size="10" text-anchor="end" font-weight="normal" fill="#231f20">Post-</text>
<text transform="translate(134.68,394.48) rotate(-45) scale(1.188,1)" font-size="10" text-anchor="end" font-weight="normal" fill="#231f20">altitude</text>
<text transform="translate(20.50,311.10) rotate(-90) scale(1.056,1)" font-size="10.2" text-anchor="middle" font-weight="normal" fill="#231f20"><tspan>CD66b (gMFI)</tspan></text>
<polyline points="89.90,311.40 89.90,231.50 126.70,231.50 126.70,243.50" fill="none" stroke="#6a6a6a" stroke-width="0.9"/>
<text transform="translate(108.30,228.40) scale(1.060,1)" font-size="8.6" text-anchor="middle" font-weight="normal" fill="#231f20">&lt;0.001</text>
<line x1="89.90" y1="332.14" x2="126.50" y2="302.60" stroke="#111" stroke-width="0.8"/>
<line x1="89.90" y1="332.89" x2="126.50" y2="308.15" stroke="#111" stroke-width="0.8"/>
<line x1="89.90" y1="332.94" x2="126.50" y2="312.25" stroke="#111" stroke-width="0.8"/>
<line x1="89.90" y1="334.33" x2="126.50" y2="308.50" stroke="#111" stroke-width="0.8"/>
<line x1="89.90" y1="336.14" x2="126.50" y2="311.49" stroke="#111" stroke-width="0.8"/>
<line x1="89.90" y1="338.42" x2="126.50" y2="309.19" stroke="#111" stroke-width="0.8"/>
<line x1="89.90" y1="338.62" x2="126.50" y2="314.31" stroke="#111" stroke-width="0.8"/>
<line x1="89.90" y1="339.27" x2="126.50" y2="313.46" stroke="#111" stroke-width="0.8"/>
<line x1="89.90" y1="339.33" x2="126.50" y2="318.11" stroke="#111" stroke-width="0.8"/>
<line x1="89.90" y1="340.06" x2="126.50" y2="318.66" stroke="#111" stroke-width="0.8"/>
<line x1="89.90" y1="340.49" x2="126.50" y2="319.49" stroke="#111" stroke-width="0.8"/>
<line x1="89.90" y1="340.92" x2="126.50" y2="318.50" stroke="#111" stroke-width="0.8"/>
<line x1="89.90" y1="341.14" x2="126.50" y2="322.78" stroke="#111" stroke-width="0.8"/>
<line x1="89.90" y1="341.51" x2="126.50" y2="319.95" stroke="#111" stroke-width="0.8"/>
<line x1="89.90" y1="342.11" x2="126.50" y2="320.16" stroke="#111" stroke-width="0.8"/>
<line x1="89.90" y1="343.63" x2="126.50" y2="327.46" stroke="#111" stroke-width="0.8"/>
<line x1="89.90" y1="343.89" x2="126.50" y2="327.51" stroke="#111" stroke-width="0.8"/>
<line x1="89.90" y1="345.64" x2="126.50" y2="323.30" stroke="#111" stroke-width="0.8"/>
<line x1="89.90" y1="346.26" x2="126.50" y2="330.50" stroke="#111" stroke-width="0.8"/>
<line x1="89.90" y1="346.53" x2="126.50" y2="324.36" stroke="#111" stroke-width="0.8"/>
<line x1="89.90" y1="349.50" x2="126.50" y2="331.10" stroke="#111" stroke-width="0.8"/>
<line x1="89.90" y1="351.20" x2="126.50" y2="331.15" stroke="#111" stroke-width="0.8"/>
<line x1="89.90" y1="323.80" x2="126.50" y2="324.80" stroke="#111" stroke-width="0.8"/>
<line x1="89.90" y1="333.00" x2="126.50" y2="255.10" stroke="#111" stroke-width="0.8"/>
<line x1="89.90" y1="332.20" x2="126.50" y2="286.80" stroke="#111" stroke-width="0.8"/>
<circle cx="89.90" cy="332.14" r="2.15" fill="#0a9595"/>
<circle cx="89.90" cy="332.89" r="2.15" fill="#0a9595"/>
<circle cx="89.90" cy="332.94" r="2.15" fill="#0a9595"/>
<circle cx="89.90" cy="334.33" r="2.15" fill="#0a9595"/>
<circle cx="89.90" cy="336.14" r="2.15" fill="#0a9595"/>
<circle cx="89.90" cy="338.42" r="2.15" fill="#0a9595"/>
<circle cx="89.90" cy="338.62" r="2.15" fill="#0a9595"/>
<circle cx="89.90" cy="339.27" r="2.15" fill="#0a9595"/>
<circle cx="89.90" cy="339.33" r="2.15" fill="#0a9595"/>
<circle cx="89.90" cy="340.06" r="2.15" fill="#0a9595"/>
<circle cx="89.90" cy="340.49" r="2.15" fill="#0a9595"/>
<circle cx="89.90" cy="340.92" r="2.15" fill="#0a9595"/>
<circle cx="89.90" cy="341.14" r="2.15" fill="#0a9595"/>
<circle cx="89.90" cy="341.51" r="2.15" fill="#0a9595"/>
<circle cx="89.90" cy="342.11" r="2.15" fill="#0a9595"/>
<circle cx="89.90" cy="343.63" r="2.15" fill="#0a9595"/>
<circle cx="89.90" cy="343.89" r="2.15" fill="#0a9595"/>
<circle cx="89.90" cy="345.64" r="2.15" fill="#0a9595"/>
<circle cx="89.90" cy="346.26" r="2.15" fill="#0a9595"/>
<circle cx="89.90" cy="346.53" r="2.15" fill="#0a9595"/>
<circle cx="89.90" cy="349.50" r="2.15" fill="#0a9595"/>
<circle cx="89.90" cy="351.20" r="2.15" fill="#0a9595"/>
<circle cx="89.90" cy="323.80" r="2.15" fill="#0a9595"/>
<circle cx="89.90" cy="333.00" r="2.15" fill="#0a9595"/>
<circle cx="89.90" cy="332.20" r="2.15" fill="#0a9595"/>
<circle cx="126.50" cy="302.60" r="2.15" fill="#0b95fb"/>
<circle cx="126.50" cy="308.15" r="2.15" fill="#0b95fb"/>
<circle cx="126.50" cy="312.25" r="2.15" fill="#0b95fb"/>
<circle cx="126.50" cy="308.50" r="2.15" fill="#0b95fb"/>
<circle cx="126.50" cy="311.49" r="2.15" fill="#0b95fb"/>
<circle cx="126.50" cy="309.19" r="2.15" fill="#0b95fb"/>
<circle cx="126.50" cy="314.31" r="2.15" fill="#0b95fb"/>
<circle cx="126.50" cy="313.46" r="2.15" fill="#0b95fb"/>
<circle cx="126.50" cy="318.11" r="2.15" fill="#0b95fb"/>
<circle cx="126.50" cy="318.66" r="2.15" fill="#0b95fb"/>
<circle cx="126.50" cy="319.49" r="2.15" fill="#0b95fb"/>
<circle cx="126.50" cy="318.50" r="2.15" fill="#0b95fb"/>
<circle cx="126.50" cy="322.78" r="2.15" fill="#0b95fb"/>
<circle cx="126.50" cy="319.95" r="2.15" fill="#0b95fb"/>
<circle cx="126.50" cy="320.16" r="2.15" fill="#0b95fb"/>
<circle cx="126.50" cy="327.46" r="2.15" fill="#0b95fb"/>
<circle cx="126.50" cy="327.51" r="2.15" fill="#0b95fb"/>
<circle cx="126.50" cy="323.30" r="2.15" fill="#0b95fb"/>
<circle cx="126.50" cy="330.50" r="2.15" fill="#0b95fb"/>
<circle cx="126.50" cy="324.36" r="2.15" fill="#0b95fb"/>
<circle cx="126.50" cy="331.10" r="2.15" fill="#0b95fb"/>
<circle cx="126.50" cy="331.15" r="2.15" fill="#0b95fb"/>
<circle cx="126.50" cy="324.80" r="2.15" fill="#0b95fb"/>
<circle cx="126.50" cy="255.10" r="2.15" fill="#0b95fb"/>
<circle cx="126.50" cy="286.80" r="2.15" fill="#0b95fb"/>
<line x1="241.40" y1="248.30" x2="241.40" y2="374.90" stroke="#7a7a7a" stroke-width="1"/>
<line x1="236.90" y1="374.90" x2="325.50" y2="374.90" stroke="#7a7a7a" stroke-width="1"/>
<line x1="236.90" y1="248.30" x2="241.40" y2="248.30" stroke="#7a7a7a" stroke-width="1"/>
<text transform="translate(232.20,250.70)" font-size="8.6" text-anchor="end" font-weight="normal" fill="#231f20">2.5 <tspan font-size="7.74">×</tspan> 10<tspan dy="-3.9" font-size="6.192">4</tspan></text>
<line x1="236.90" y1="273.62" x2="241.40" y2="273.62" stroke="#7a7a7a" stroke-width="1"/>
<text transform="translate(232.20,276.02)" font-size="8.6" text-anchor="end" font-weight="normal" fill="#231f20">2.0 <tspan font-size="7.74">×</tspan> 10<tspan dy="-3.9" font-size="6.192">4</tspan></text>
<line x1="236.90" y1="298.94" x2="241.40" y2="298.94" stroke="#7a7a7a" stroke-width="1"/>
<text transform="translate(232.20,301.34)" font-size="8.6" text-anchor="end" font-weight="normal" fill="#231f20">1.5 <tspan font-size="7.74">×</tspan> 10<tspan dy="-3.9" font-size="6.192">4</tspan></text>
<line x1="236.90" y1="324.26" x2="241.40" y2="324.26" stroke="#7a7a7a" stroke-width="1"/>
<text transform="translate(232.20,326.66)" font-size="8.6" text-anchor="end" font-weight="normal" fill="#231f20">1.0 <tspan font-size="7.74">×</tspan> 10<tspan dy="-3.9" font-size="6.192">4</tspan></text>
<line x1="236.90" y1="349.58" x2="241.40" y2="349.58" stroke="#7a7a7a" stroke-width="1"/>
<text transform="translate(232.20,351.98)" font-size="8.6" text-anchor="end" font-weight="normal" fill="#231f20">5.0 <tspan font-size="7.74">×</tspan> 10<tspan dy="-3.9" font-size="6.192">3</tspan></text>
<line x1="236.90" y1="374.90" x2="241.40" y2="374.90" stroke="#7a7a7a" stroke-width="1"/>
<text transform="translate(232.20,377.80)" font-size="8.6" text-anchor="end" font-weight="normal" fill="#231f20">0</text>
<line x1="265.40" y1="374.90" x2="265.40" y2="379.10" stroke="#7a7a7a" stroke-width="1"/>
<line x1="301.80" y1="374.90" x2="301.80" y2="379.10" stroke="#7a7a7a" stroke-width="1"/>
<text transform="translate(266.40,386.10) rotate(-45) scale(1.069,1)" font-size="10" text-anchor="end" font-weight="normal" fill="#231f20">Baseline</text>
<text transform="translate(302.80,386.10) rotate(-45) scale(1.071,1)" font-size="10" text-anchor="end" font-weight="normal" fill="#231f20">Post-</text>
<text transform="translate(309.98,394.48) rotate(-45) scale(1.188,1)" font-size="10" text-anchor="end" font-weight="normal" fill="#231f20">altitude</text>
<text transform="translate(189.00,311.00) rotate(-90) scale(1.043,1)" font-size="10.2" text-anchor="middle" font-weight="normal" fill="#231f20"><tspan>CD62L (gMFI)</tspan></text>
<polyline points="265.40,246.40 265.40,234.40 301.80,234.40 301.80,272.70" fill="none" stroke="#6a6a6a" stroke-width="0.9"/>
<text transform="translate(283.60,231.50) scale(1.060,1)" font-size="8.6" text-anchor="middle" font-weight="normal" fill="#231f20">&lt;0.001</text>
<line x1="265.40" y1="258.70" x2="301.80" y2="341.80" stroke="#111" stroke-width="0.8"/>
<line x1="265.40" y1="268.80" x2="301.80" y2="337.50" stroke="#111" stroke-width="0.8"/>
<line x1="265.40" y1="274.60" x2="301.80" y2="344.00" stroke="#111" stroke-width="0.8"/>
<line x1="265.40" y1="278.90" x2="301.80" y2="284.70" stroke="#111" stroke-width="0.8"/>
<line x1="265.40" y1="288.30" x2="301.80" y2="296.00" stroke="#111" stroke-width="0.8"/>
<line x1="265.40" y1="291.20" x2="301.80" y2="346.20" stroke="#111" stroke-width="0.8"/>
<line x1="265.40" y1="293.40" x2="301.80" y2="335.30" stroke="#111" stroke-width="0.8"/>
<line x1="265.40" y1="295.60" x2="301.80" y2="311.50" stroke="#111" stroke-width="0.8"/>
<line x1="265.40" y1="297.70" x2="301.80" y2="339.70" stroke="#111" stroke-width="0.8"/>
<line x1="265.40" y1="301.30" x2="301.80" y2="333.20" stroke="#111" stroke-width="0.8"/>
<line x1="265.40" y1="304.20" x2="301.80" y2="347.60" stroke="#111" stroke-width="0.8"/>
<line x1="265.40" y1="311.50" x2="301.80" y2="315.50" stroke="#111" stroke-width="0.8"/>
<line x1="265.40" y1="313.60" x2="301.80" y2="331.00" stroke="#111" stroke-width="0.8"/>
<line x1="265.40" y1="315.80" x2="301.80" y2="337.50" stroke="#111" stroke-width="0.8"/>
<line x1="265.40" y1="318.00" x2="301.80" y2="344.00" stroke="#111" stroke-width="0.8"/>
<line x1="265.40" y1="319.40" x2="301.80" y2="341.80" stroke="#111" stroke-width="0.8"/>
<line x1="265.40" y1="321.60" x2="301.80" y2="353.40" stroke="#111" stroke-width="0.8"/>
<line x1="265.40" y1="331.70" x2="301.80" y2="306.40" stroke="#111" stroke-width="0.8"/>
<line x1="265.40" y1="335.30" x2="301.80" y2="363.50" stroke="#111" stroke-width="0.8"/>
<line x1="265.40" y1="311.00" x2="301.80" y2="296.00" stroke="#111" stroke-width="0.8"/>
<line x1="265.40" y1="316.50" x2="301.80" y2="339.00" stroke="#111" stroke-width="0.8"/>
<circle cx="265.40" cy="258.70" r="2.15" fill="#0a9595"/>
<circle cx="265.40" cy="268.80" r="2.15" fill="#0a9595"/>
<circle cx="265.40" cy="274.60" r="2.15" fill="#0a9595"/>
<circle cx="265.40" cy="278.90" r="2.15" fill="#0a9595"/>
<circle cx="265.40" cy="288.30" r="2.15" fill="#0a9595"/>
<circle cx="265.40" cy="291.20" r="2.15" fill="#0a9595"/>
<circle cx="265.40" cy="293.40" r="2.15" fill="#0a9595"/>
<circle cx="265.40" cy="295.60" r="2.15" fill="#0a9595"/>
<circle cx="265.40" cy="297.70" r="2.15" fill="#0a9595"/>
<circle cx="265.40" cy="301.30" r="2.15" fill="#0a9595"/>
<circle cx="265.40" cy="304.20" r="2.15" fill="#0a9595"/>
<circle cx="265.40" cy="311.50" r="2.15" fill="#0a9595"/>
<circle cx="265.40" cy="313.60" r="2.15" fill="#0a9595"/>
<circle cx="265.40" cy="315.80" r="2.15" fill="#0a9595"/>
<circle cx="265.40" cy="318.00" r="2.15" fill="#0a9595"/>
<circle cx="265.40" cy="319.40" r="2.15" fill="#0a9595"/>
<circle cx="265.40" cy="321.60" r="2.15" fill="#0a9595"/>
<circle cx="265.40" cy="331.70" r="2.15" fill="#0a9595"/>
<circle cx="265.40" cy="335.30" r="2.15" fill="#0a9595"/>
<circle cx="265.40" cy="311.00" r="2.15" fill="#0a9595"/>
<circle cx="265.40" cy="316.50" r="2.15" fill="#0a9595"/>
<circle cx="301.80" cy="341.80" r="2.15" fill="#0b95fb"/>
<circle cx="301.80" cy="337.50" r="2.15" fill="#0b95fb"/>
<circle cx="301.80" cy="344.00" r="2.15" fill="#0b95fb"/>
<circle cx="301.80" cy="284.70" r="2.15" fill="#0b95fb"/>
<circle cx="301.80" cy="296.00" r="2.15" fill="#0b95fb"/>
<circle cx="301.80" cy="346.20" r="2.15" fill="#0b95fb"/>
<circle cx="301.80" cy="335.30" r="2.15" fill="#0b95fb"/>
<circle cx="301.80" cy="311.50" r="2.15" fill="#0b95fb"/>
<circle cx="301.80" cy="339.70" r="2.15" fill="#0b95fb"/>
<circle cx="301.80" cy="333.20" r="2.15" fill="#0b95fb"/>
<circle cx="301.80" cy="347.60" r="2.15" fill="#0b95fb"/>
<circle cx="301.80" cy="315.50" r="2.15" fill="#0b95fb"/>
<circle cx="301.80" cy="331.00" r="2.15" fill="#0b95fb"/>
<circle cx="301.80" cy="337.50" r="2.15" fill="#0b95fb"/>
<circle cx="301.80" cy="344.00" r="2.15" fill="#0b95fb"/>
<circle cx="301.80" cy="341.80" r="2.15" fill="#0b95fb"/>
<circle cx="301.80" cy="353.40" r="2.15" fill="#0b95fb"/>
<circle cx="301.80" cy="306.40" r="2.15" fill="#0b95fb"/>
<circle cx="301.80" cy="363.50" r="2.15" fill="#0b95fb"/>
<circle cx="301.80" cy="296.00" r="2.15" fill="#0b95fb"/>
<circle cx="301.80" cy="339.00" r="2.15" fill="#0b95fb"/>
<text transform="translate(356.40,227.20) scale(1.040,1)" font-size="17" text-anchor="start" font-weight="bold" fill="#000">e</text>
<line x1="415.20" y1="248.20" x2="415.20" y2="374.90" stroke="#7a7a7a" stroke-width="1"/>
<line x1="410.70" y1="374.90" x2="499.60" y2="374.90" stroke="#7a7a7a" stroke-width="1"/>
<line x1="410.70" y1="248.20" x2="415.20" y2="248.20" stroke="#7a7a7a" stroke-width="1"/>
<text transform="translate(405.60,251.10) scale(1.040,1)" font-size="9.4" text-anchor="end" font-weight="normal" fill="#231f20">0.40</text>
<line x1="410.70" y1="279.88" x2="415.20" y2="279.88" stroke="#7a7a7a" stroke-width="1"/>
<text transform="translate(405.60,282.77) scale(1.040,1)" font-size="9.4" text-anchor="end" font-weight="normal" fill="#231f20">0.35</text>
<line x1="410.70" y1="311.55" x2="415.20" y2="311.55" stroke="#7a7a7a" stroke-width="1"/>
<text transform="translate(405.60,314.45) scale(1.040,1)" font-size="9.4" text-anchor="end" font-weight="normal" fill="#231f20">0.30</text>
<line x1="410.70" y1="343.22" x2="415.20" y2="343.22" stroke="#7a7a7a" stroke-width="1"/>
<text transform="translate(405.60,346.12) scale(1.040,1)" font-size="9.4" text-anchor="end" font-weight="normal" fill="#231f20">0.25</text>
<line x1="410.70" y1="374.90" x2="415.20" y2="374.90" stroke="#7a7a7a" stroke-width="1"/>
<text transform="translate(405.60,377.80) scale(1.040,1)" font-size="9.4" text-anchor="end" font-weight="normal" fill="#231f20">0.20</text>
<line x1="438.70" y1="374.90" x2="438.70" y2="379.10" stroke="#7a7a7a" stroke-width="1"/>
<line x1="475.30" y1="374.90" x2="475.30" y2="379.10" stroke="#7a7a7a" stroke-width="1"/>
<text transform="translate(439.70,386.10) rotate(-45) scale(1.069,1)" font-size="10" text-anchor="end" font-weight="normal" fill="#231f20">Baseline</text>
<text transform="translate(476.30,386.10) rotate(-45) scale(1.071,1)" font-size="10" text-anchor="end" font-weight="normal" fill="#231f20">Post-</text>
<text transform="translate(483.48,394.48) rotate(-45) scale(1.188,1)" font-size="10" text-anchor="end" font-weight="normal" fill="#231f20">altitude</text>
<text transform="translate(0.00,0.00)" font-size="1" text-anchor="start" font-weight="normal" fill="#231f20"></text>
<text transform="translate(367.10,310.80) rotate(-90) scale(1.094,1)" font-size="10.2" text-anchor="middle" font-weight="normal" fill="#231f20"><tspan>Cytoskeleton (normalized</tspan></text>
<text transform="translate(377.30,311.00) rotate(-90) scale(1.094,1)" font-size="10.2" text-anchor="middle" font-weight="normal" fill="#231f20"><tspan>intensity)</tspan></text>
<polyline points="438.70,283.50 438.70,258.20 475.30,258.20 475.30,270.50" fill="none" stroke="#6a6a6a" stroke-width="0.9"/>
<text transform="translate(457.00,254.90) scale(1.160,1)" font-size="8.6" text-anchor="middle" font-weight="normal" fill="#231f20">0.048</text>
<line x1="438.70" y1="294.40" x2="475.30" y2="293.40" stroke="#111" stroke-width="0.8"/>
<line x1="438.70" y1="295.40" x2="475.30" y2="282.10" stroke="#111" stroke-width="0.8"/>
<line x1="438.70" y1="296.40" x2="475.30" y2="301.10" stroke="#111" stroke-width="0.8"/>
<line x1="438.70" y1="297.40" x2="475.30" y2="299.50" stroke="#111" stroke-width="0.8"/>
<line x1="438.70" y1="299.50" x2="475.30" y2="286.20" stroke="#111" stroke-width="0.8"/>
<line x1="438.70" y1="301.50" x2="475.30" y2="295.00" stroke="#111" stroke-width="0.8"/>
<line x1="438.70" y1="303.60" x2="475.30" y2="302.60" stroke="#111" stroke-width="0.8"/>
<line x1="438.70" y1="305.60" x2="475.30" y2="299.50" stroke="#111" stroke-width="0.8"/>
<line x1="438.70" y1="307.70" x2="475.30" y2="295.00" stroke="#111" stroke-width="0.8"/>
<line x1="438.70" y1="317.50" x2="475.30" y2="305.60" stroke="#111" stroke-width="0.8"/>
<circle cx="438.70" cy="294.40" r="1.75" fill="#0a9595"/>
<circle cx="438.70" cy="295.40" r="1.75" fill="#0a9595"/>
<circle cx="438.70" cy="296.40" r="1.75" fill="#0a9595"/>
<circle cx="438.70" cy="297.40" r="1.75" fill="#0a9595"/>
<circle cx="438.70" cy="299.50" r="1.75" fill="#0a9595"/>
<circle cx="438.70" cy="301.50" r="1.75" fill="#0a9595"/>
<circle cx="438.70" cy="303.60" r="1.75" fill="#0a9595"/>
<circle cx="438.70" cy="305.60" r="1.75" fill="#0a9595"/>
<circle cx="438.70" cy="307.70" r="1.75" fill="#0a9595"/>
<circle cx="438.70" cy="317.50" r="1.75" fill="#0a9595"/>
<circle cx="475.30" cy="293.40" r="1.75" fill="#0b95fb"/>
<circle cx="475.30" cy="282.10" r="1.75" fill="#0b95fb"/>
<circle cx="475.30" cy="301.10" r="1.75" fill="#0b95fb"/>
<circle cx="475.30" cy="299.50" r="1.75" fill="#0b95fb"/>
<circle cx="475.30" cy="286.20" r="1.75" fill="#0b95fb"/>
<circle cx="475.30" cy="295.00" r="1.75" fill="#0b95fb"/>
<circle cx="475.30" cy="302.60" r="1.75" fill="#0b95fb"/>
<circle cx="475.30" cy="299.50" r="1.75" fill="#0b95fb"/>
<circle cx="475.30" cy="295.00" r="1.75" fill="#0b95fb"/>
<circle cx="475.30" cy="305.60" r="1.75" fill="#0b95fb"/>
<line x1="580.30" y1="248.20" x2="580.30" y2="374.90" stroke="#7a7a7a" stroke-width="1"/>
<line x1="575.80" y1="374.90" x2="664.80" y2="374.90" stroke="#7a7a7a" stroke-width="1"/>
<line x1="575.80" y1="248.20" x2="580.30" y2="248.20" stroke="#7a7a7a" stroke-width="1"/>
<text transform="translate(571.40,251.10) scale(1.040,1)" font-size="9.4" text-anchor="end" font-weight="normal" fill="#231f20">0.40</text>
<line x1="575.80" y1="279.88" x2="580.30" y2="279.88" stroke="#7a7a7a" stroke-width="1"/>
<text transform="translate(571.40,282.77) scale(1.040,1)" font-size="9.4" text-anchor="end" font-weight="normal" fill="#231f20">0.35</text>
<line x1="575.80" y1="311.55" x2="580.30" y2="311.55" stroke="#7a7a7a" stroke-width="1"/>
<text transform="translate(571.40,314.45) scale(1.040,1)" font-size="9.4" text-anchor="end" font-weight="normal" fill="#231f20">0.30</text>
<line x1="575.80" y1="343.22" x2="580.30" y2="343.22" stroke="#7a7a7a" stroke-width="1"/>
<text transform="translate(571.40,346.12) scale(1.040,1)" font-size="9.4" text-anchor="end" font-weight="normal" fill="#231f20">0.25</text>
<line x1="575.80" y1="374.90" x2="580.30" y2="374.90" stroke="#7a7a7a" stroke-width="1"/>
<text transform="translate(571.40,377.80) scale(1.040,1)" font-size="9.4" text-anchor="end" font-weight="normal" fill="#231f20">0.20</text>
<line x1="604.50" y1="374.90" x2="604.50" y2="379.10" stroke="#7a7a7a" stroke-width="1"/>
<line x1="640.80" y1="374.90" x2="640.80" y2="379.10" stroke="#7a7a7a" stroke-width="1"/>
<text transform="translate(605.50,386.10) rotate(-45) scale(1.069,1)" font-size="10" text-anchor="end" font-weight="normal" fill="#231f20">Baseline</text>
<text transform="translate(641.80,386.10) rotate(-45) scale(1.071,1)" font-size="10" text-anchor="end" font-weight="normal" fill="#231f20">Post-</text>
<text transform="translate(648.98,394.48) rotate(-45) scale(1.188,1)" font-size="10" text-anchor="end" font-weight="normal" fill="#231f20">altitude</text>
<text transform="translate(529.80,311.50) rotate(-90) scale(1.085,1)" font-size="10.2" text-anchor="middle" font-weight="normal" fill="#231f20"><tspan>Total granules cargo</tspan></text>
<text transform="translate(542.00,311.50) rotate(-90) scale(1.133,1)" font-size="10.2" text-anchor="middle" font-weight="normal" fill="#231f20"><tspan>(normalized intensity)</tspan></text>
<polyline points="604.50,280.60 604.50,268.80 640.80,268.80 640.80,288.80" fill="none" stroke="#6a6a6a" stroke-width="0.9"/>
<text transform="translate(622.65,266.50) scale(1.160,1)" font-size="8.6" text-anchor="middle" font-weight="normal" fill="#231f20">0.021</text>
<line x1="604.50" y1="292.60" x2="640.80" y2="304.90" stroke="#111" stroke-width="0.8"/>
<line x1="604.50" y1="302.80" x2="640.80" y2="301.00" stroke="#111" stroke-width="0.8"/>
<line x1="604.50" y1="304.10" x2="640.80" y2="306.60" stroke="#111" stroke-width="0.8"/>
<line x1="604.50" y1="305.40" x2="640.80" y2="302.80" stroke="#111" stroke-width="0.8"/>
<line x1="604.50" y1="306.60" x2="640.80" y2="308.70" stroke="#111" stroke-width="0.8"/>
<line x1="604.50" y1="309.20" x2="640.80" y2="304.90" stroke="#111" stroke-width="0.8"/>
<line x1="604.50" y1="311.80" x2="640.80" y2="318.90" stroke="#111" stroke-width="0.8"/>
<line x1="604.50" y1="315.10" x2="640.80" y2="322.50" stroke="#111" stroke-width="0.8"/>
<line x1="604.50" y1="326.60" x2="640.80" y2="343.00" stroke="#111" stroke-width="0.8"/>
<line x1="604.50" y1="305.00" x2="640.80" y2="311.20" stroke="#111" stroke-width="0.8"/>
<circle cx="604.50" cy="292.60" r="1.75" fill="#0a9595"/>
<circle cx="604.50" cy="302.80" r="1.75" fill="#0a9595"/>
<circle cx="604.50" cy="304.10" r="1.75" fill="#0a9595"/>
<circle cx="604.50" cy="305.40" r="1.75" fill="#0a9595"/>
<circle cx="604.50" cy="306.60" r="1.75" fill="#0a9595"/>
<circle cx="604.50" cy="309.20" r="1.75" fill="#0a9595"/>
<circle cx="604.50" cy="311.80" r="1.75" fill="#0a9595"/>
<circle cx="604.50" cy="315.10" r="1.75" fill="#0a9595"/>
<circle cx="604.50" cy="326.60" r="1.75" fill="#0a9595"/>
<circle cx="604.50" cy="305.00" r="1.75" fill="#0a9595"/>
<circle cx="640.80" cy="304.90" r="1.75" fill="#0b95fb"/>
<circle cx="640.80" cy="301.00" r="1.75" fill="#0b95fb"/>
<circle cx="640.80" cy="306.60" r="1.75" fill="#0b95fb"/>
<circle cx="640.80" cy="302.80" r="1.75" fill="#0b95fb"/>
<circle cx="640.80" cy="308.70" r="1.75" fill="#0b95fb"/>
<circle cx="640.80" cy="304.90" r="1.75" fill="#0b95fb"/>
<circle cx="640.80" cy="318.90" r="1.75" fill="#0b95fb"/>
<circle cx="640.80" cy="322.50" r="1.75" fill="#0b95fb"/>
<circle cx="640.80" cy="343.00" r="1.75" fill="#0b95fb"/>
<circle cx="640.80" cy="311.20" r="1.75" fill="#0b95fb"/>
<text transform="translate(0.80,468.80) scale(1.040,1)" font-size="17" text-anchor="start" font-weight="bold" fill="#000">f</text>
<line x1="66.50" y1="484.90" x2="66.50" y2="611.50" stroke="#7a7a7a" stroke-width="1"/>
<line x1="62.00" y1="611.50" x2="150.60" y2="611.50" stroke="#7a7a7a" stroke-width="1"/>
<line x1="62.00" y1="484.90" x2="66.50" y2="484.90" stroke="#7a7a7a" stroke-width="1"/>
<text transform="translate(57.40,487.80) scale(1.040,1)" font-size="9.4" text-anchor="end" font-weight="normal" fill="#231f20">200</text>
<line x1="62.00" y1="516.55" x2="66.50" y2="516.55" stroke="#7a7a7a" stroke-width="1"/>
<text transform="translate(57.40,519.45) scale(1.040,1)" font-size="9.4" text-anchor="end" font-weight="normal" fill="#231f20">150</text>
<line x1="62.00" y1="548.20" x2="66.50" y2="548.20" stroke="#7a7a7a" stroke-width="1"/>
<text transform="translate(57.40,551.10) scale(1.040,1)" font-size="9.4" text-anchor="end" font-weight="normal" fill="#231f20">100</text>
<line x1="62.00" y1="579.85" x2="66.50" y2="579.85" stroke="#7a7a7a" stroke-width="1"/>
<text transform="translate(57.40,582.75) scale(1.040,1)" font-size="9.4" text-anchor="end" font-weight="normal" fill="#231f20">50</text>
<line x1="62.00" y1="611.50" x2="66.50" y2="611.50" stroke="#7a7a7a" stroke-width="1"/>
<text transform="translate(57.40,614.40) scale(1.040,1)" font-size="9.4" text-anchor="end" font-weight="normal" fill="#231f20">0</text>
<line x1="89.90" y1="611.50" x2="89.90" y2="615.70" stroke="#7a7a7a" stroke-width="1"/>
<line x1="126.60" y1="611.50" x2="126.60" y2="615.70" stroke="#7a7a7a" stroke-width="1"/>
<text transform="translate(90.90,622.70) rotate(-45) scale(1.069,1)" font-size="10" text-anchor="end" font-weight="normal" fill="#231f20">Baseline</text>
<text transform="translate(127.60,622.70) rotate(-45) scale(1.071,1)" font-size="10" text-anchor="end" font-weight="normal" fill="#231f20">Post-</text>
<text transform="translate(134.78,631.08) rotate(-45) scale(1.188,1)" font-size="10" text-anchor="end" font-weight="normal" fill="#231f20">altitude</text>
<text transform="translate(31.70,548.50) rotate(-90) scale(1.030,1)" font-size="10.2" text-anchor="middle" font-weight="normal" fill="#231f20"><tspan>MPO (ng ml</tspan><tspan dy="-3.4" font-size="6.936">−1</tspan><tspan dy="3.4"></tspan><tspan>)</tspan></text>
<polyline points="89.90,505.20 89.90,494.70 126.60,494.70 126.60,537.20" fill="none" stroke="#6a6a6a" stroke-width="0.9"/>
<text transform="translate(108.25,491.20) scale(1.160,1)" font-size="8.6" text-anchor="middle" font-weight="normal" fill="#231f20">0.004</text>
<line x1="89.90" y1="518.30" x2="126.60" y2="549.10" stroke="#111" stroke-width="0.8"/>
<line x1="89.90" y1="536.80" x2="126.60" y2="583.00" stroke="#111" stroke-width="0.8"/>
<line x1="89.90" y1="540.30" x2="126.60" y2="593.30" stroke="#111" stroke-width="0.8"/>
<line x1="89.90" y1="555.40" x2="126.60" y2="576.00" stroke="#111" stroke-width="0.8"/>
<line x1="89.90" y1="568.30" x2="126.60" y2="578.30" stroke="#111" stroke-width="0.8"/>
<line x1="89.90" y1="580.40" x2="126.60" y2="581.10" stroke="#111" stroke-width="0.8"/>
<line x1="89.90" y1="581.60" x2="126.60" y2="583.00" stroke="#111" stroke-width="0.8"/>
<line x1="89.90" y1="588.60" x2="126.60" y2="591.70" stroke="#111" stroke-width="0.8"/>
<line x1="89.90" y1="590.00" x2="126.60" y2="595.40" stroke="#111" stroke-width="0.8"/>
<circle cx="89.90" cy="518.30" r="2" fill="#0a9595"/>
<circle cx="89.90" cy="536.80" r="2" fill="#0a9595"/>
<circle cx="89.90" cy="540.30" r="2" fill="#0a9595"/>
<circle cx="89.90" cy="555.40" r="2" fill="#0a9595"/>
<circle cx="89.90" cy="568.30" r="2" fill="#0a9595"/>
<circle cx="89.90" cy="580.40" r="2" fill="#0a9595"/>
<circle cx="89.90" cy="581.60" r="2" fill="#0a9595"/>
<circle cx="89.90" cy="588.60" r="2" fill="#0a9595"/>
<circle cx="89.90" cy="590.00" r="2" fill="#0a9595"/>
<circle cx="126.60" cy="549.10" r="2" fill="#0b95fb"/>
<circle cx="126.60" cy="583.00" r="2" fill="#0b95fb"/>
<circle cx="126.60" cy="593.30" r="2" fill="#0b95fb"/>
<circle cx="126.60" cy="576.00" r="2" fill="#0b95fb"/>
<circle cx="126.60" cy="578.30" r="2" fill="#0b95fb"/>
<circle cx="126.60" cy="581.10" r="2" fill="#0b95fb"/>
<circle cx="126.60" cy="583.00" r="2" fill="#0b95fb"/>
<circle cx="126.60" cy="591.70" r="2" fill="#0b95fb"/>
<circle cx="126.60" cy="595.40" r="2" fill="#0b95fb"/>
<text transform="translate(204.30,469.00) scale(1.040,1)" font-size="17" text-anchor="start" font-weight="bold" fill="#000">g</text>
<line x1="241.50" y1="484.71" x2="241.50" y2="611.50" stroke="#7a7a7a" stroke-width="1"/>
<line x1="237.00" y1="611.50" x2="325.60" y2="611.50" stroke="#7a7a7a" stroke-width="1"/>
<line x1="237.00" y1="484.71" x2="241.50" y2="484.71" stroke="#7a7a7a" stroke-width="1"/>
<text transform="translate(231.40,487.61) scale(1.040,1)" font-size="9.4" text-anchor="end" font-weight="normal" fill="#231f20">25</text>
<line x1="237.00" y1="526.97" x2="241.50" y2="526.97" stroke="#7a7a7a" stroke-width="1"/>
<text transform="translate(231.40,529.87) scale(1.040,1)" font-size="9.4" text-anchor="end" font-weight="normal" fill="#231f20">20</text>
<line x1="237.00" y1="569.24" x2="241.50" y2="569.24" stroke="#7a7a7a" stroke-width="1"/>
<text transform="translate(231.40,572.13) scale(1.040,1)" font-size="9.4" text-anchor="end" font-weight="normal" fill="#231f20">15</text>
<line x1="237.00" y1="611.50" x2="241.50" y2="611.50" stroke="#7a7a7a" stroke-width="1"/>
<text transform="translate(231.40,614.40) scale(1.040,1)" font-size="9.4" text-anchor="end" font-weight="normal" fill="#231f20">10</text>
<line x1="265.50" y1="611.50" x2="265.50" y2="615.70" stroke="#7a7a7a" stroke-width="1"/>
<line x1="301.90" y1="611.50" x2="301.90" y2="615.70" stroke="#7a7a7a" stroke-width="1"/>
<text transform="translate(266.50,622.70) rotate(-45) scale(1.069,1)" font-size="10" text-anchor="end" font-weight="normal" fill="#231f20">Baseline</text>
<text transform="translate(302.90,622.70) rotate(-45) scale(1.071,1)" font-size="10" text-anchor="end" font-weight="normal" fill="#231f20">Post-</text>
<text transform="translate(310.08,631.08) rotate(-45) scale(1.188,1)" font-size="10" text-anchor="end" font-weight="normal" fill="#231f20">altitude</text>
<text transform="translate(212.50,547.60) rotate(-90) scale(1.074,1)" font-size="10.2" text-anchor="middle" font-weight="normal" fill="#231f20"><tspan>Phagocytic neutrophils (%)</tspan></text>
<polyline points="265.50,488.90 265.50,476.50 301.90,476.50 301.90,491.10" fill="none" stroke="#6a6a6a" stroke-width="0.9"/>
<text transform="translate(283.70,473.60) scale(1.160,1)" font-size="8.6" text-anchor="middle" font-weight="normal" fill="#231f20">0.034</text>
<line x1="265.50" y1="501.00" x2="301.90" y2="587.50" stroke="#111" stroke-width="0.8"/>
<line x1="265.50" y1="502.70" x2="301.90" y2="591.20" stroke="#111" stroke-width="0.8"/>
<line x1="265.50" y1="519.60" x2="301.90" y2="529.90" stroke="#111" stroke-width="0.8"/>
<line x1="265.50" y1="525.50" x2="301.90" y2="503.20" stroke="#111" stroke-width="0.8"/>
<line x1="265.50" y1="526.80" x2="301.90" y2="582.00" stroke="#111" stroke-width="0.8"/>
<line x1="265.50" y1="547.40" x2="301.90" y2="561.20" stroke="#111" stroke-width="0.8"/>
<line x1="265.50" y1="549.60" x2="301.90" y2="548.70" stroke="#111" stroke-width="0.8"/>
<line x1="265.50" y1="551.30" x2="301.90" y2="504.90" stroke="#111" stroke-width="0.8"/>
<line x1="265.50" y1="553.50" x2="301.90" y2="554.80" stroke="#111" stroke-width="0.8"/>
<line x1="265.50" y1="555.30" x2="301.90" y2="583.70" stroke="#111" stroke-width="0.8"/>
<line x1="265.50" y1="556.80" x2="301.90" y2="576.50" stroke="#111" stroke-width="0.8"/>
<line x1="265.50" y1="558.40" x2="301.90" y2="578.10" stroke="#111" stroke-width="0.8"/>
<line x1="265.50" y1="560.50" x2="301.90" y2="592.90" stroke="#111" stroke-width="0.8"/>
<line x1="265.50" y1="587.50" x2="301.90" y2="592.90" stroke="#111" stroke-width="0.8"/>
<circle cx="265.50" cy="501.00" r="2" fill="#0a9595"/>
<circle cx="265.50" cy="502.70" r="2" fill="#0a9595"/>
<circle cx="265.50" cy="519.60" r="2" fill="#0a9595"/>
<circle cx="265.50" cy="525.50" r="2" fill="#0a9595"/>
<circle cx="265.50" cy="526.80" r="2" fill="#0a9595"/>
<circle cx="265.50" cy="547.40" r="2" fill="#0a9595"/>
<circle cx="265.50" cy="549.60" r="2" fill="#0a9595"/>
<circle cx="265.50" cy="551.30" r="2" fill="#0a9595"/>
<circle cx="265.50" cy="553.50" r="2" fill="#0a9595"/>
<circle cx="265.50" cy="555.30" r="2" fill="#0a9595"/>
<circle cx="265.50" cy="556.80" r="2" fill="#0a9595"/>
<circle cx="265.50" cy="558.40" r="2" fill="#0a9595"/>
<circle cx="265.50" cy="560.50" r="2" fill="#0a9595"/>
<circle cx="265.50" cy="587.50" r="2" fill="#0a9595"/>
<circle cx="301.90" cy="587.50" r="2" fill="#0b95fb"/>
<circle cx="301.90" cy="591.20" r="2" fill="#0b95fb"/>
<circle cx="301.90" cy="529.90" r="2" fill="#0b95fb"/>
<circle cx="301.90" cy="503.20" r="2" fill="#0b95fb"/>
<circle cx="301.90" cy="582.00" r="2" fill="#0b95fb"/>
<circle cx="301.90" cy="561.20" r="2" fill="#0b95fb"/>
<circle cx="301.90" cy="548.70" r="2" fill="#0b95fb"/>
<circle cx="301.90" cy="504.90" r="2" fill="#0b95fb"/>
<circle cx="301.90" cy="554.80" r="2" fill="#0b95fb"/>
<circle cx="301.90" cy="583.70" r="2" fill="#0b95fb"/>
<circle cx="301.90" cy="576.50" r="2" fill="#0b95fb"/>
<circle cx="301.90" cy="578.10" r="2" fill="#0b95fb"/>
<circle cx="301.90" cy="592.90" r="2" fill="#0b95fb"/>
<circle cx="301.90" cy="592.90" r="2" fill="#0b95fb"/>
<text transform="translate(436.50,438.90)" font-size="11.1" text-anchor="start" font-weight="normal" fill="#231f20">Granule proteins and maturation</text>
<line x1="410.00" y1="444.20" x2="622.30" y2="444.20" stroke="#8a8a8a" stroke-width="1"/>
<text transform="translate(356.00,468.60) scale(1.040,1)" font-size="17" text-anchor="start" font-weight="bold" fill="#000">h</text>
<line x1="414.90" y1="484.40" x2="414.90" y2="611.50" stroke="#7a7a7a" stroke-width="1"/>
<line x1="410.40" y1="611.50" x2="499.50" y2="611.50" stroke="#7a7a7a" stroke-width="1"/>
<line x1="410.40" y1="484.40" x2="414.90" y2="484.40" stroke="#7a7a7a" stroke-width="1"/>
<text transform="translate(405.80,487.30) scale(1.040,1)" font-size="9.4" text-anchor="end" font-weight="normal" fill="#231f20">0.25</text>
<line x1="410.40" y1="509.82" x2="414.90" y2="509.82" stroke="#7a7a7a" stroke-width="1"/>
<text transform="translate(405.80,512.72) scale(1.040,1)" font-size="9.4" text-anchor="end" font-weight="normal" fill="#231f20">0.20</text>
<line x1="410.40" y1="535.24" x2="414.90" y2="535.24" stroke="#7a7a7a" stroke-width="1"/>
<text transform="translate(405.80,538.14) scale(1.040,1)" font-size="9.4" text-anchor="end" font-weight="normal" fill="#231f20">0.15</text>
<line x1="410.40" y1="560.66" x2="414.90" y2="560.66" stroke="#7a7a7a" stroke-width="1"/>
<text transform="translate(405.80,563.56) scale(1.040,1)" font-size="9.4" text-anchor="end" font-weight="normal" fill="#231f20">0.10</text>
<line x1="410.40" y1="586.08" x2="414.90" y2="586.08" stroke="#7a7a7a" stroke-width="1"/>
<text transform="translate(405.80,588.98) scale(1.040,1)" font-size="9.4" text-anchor="end" font-weight="normal" fill="#231f20">0.05</text>
<line x1="410.40" y1="611.50" x2="414.90" y2="611.50" stroke="#7a7a7a" stroke-width="1"/>
<text transform="translate(405.80,614.40) scale(1.040,1)" font-size="9.4" text-anchor="end" font-weight="normal" fill="#231f20">0</text>
<line x1="438.90" y1="611.50" x2="438.90" y2="615.70" stroke="#7a7a7a" stroke-width="1"/>
<line x1="475.30" y1="611.50" x2="475.30" y2="615.70" stroke="#7a7a7a" stroke-width="1"/>
<text transform="translate(439.90,622.70) rotate(-45) scale(1.069,1)" font-size="10" text-anchor="end" font-weight="normal" fill="#231f20">Baseline</text>
<text transform="translate(476.30,622.70) rotate(-45) scale(1.071,1)" font-size="10" text-anchor="end" font-weight="normal" fill="#231f20">Post-</text>
<text transform="translate(483.48,631.08) rotate(-45) scale(1.188,1)" font-size="10" text-anchor="end" font-weight="normal" fill="#231f20">altitude</text>
<text transform="translate(377.60,547.90) rotate(-90) scale(1.099,1)" font-size="10.2" text-anchor="middle" font-weight="normal" fill="#231f20"><tspan font-style="italic">LYZ</tspan><tspan> (relative abundance)</tspan></text>
<polyline points="438.90,495.90 438.90,484.00 475.30,484.00 475.30,499.80" fill="none" stroke="#6a6a6a" stroke-width="0.9"/>
<text transform="translate(457.10,481.40) scale(1.160,1)" font-size="8.6" text-anchor="middle" font-weight="normal" fill="#231f20">0.026</text>
<line x1="438.90" y1="508.00" x2="475.30" y2="545.90" stroke="#111" stroke-width="0.8"/>
<line x1="438.90" y1="517.00" x2="475.30" y2="541.00" stroke="#111" stroke-width="0.8"/>
<line x1="438.90" y1="519.10" x2="475.30" y2="563.20" stroke="#111" stroke-width="0.8"/>
<line x1="438.90" y1="520.80" x2="475.30" y2="511.70" stroke="#111" stroke-width="0.8"/>
<line x1="438.90" y1="522.60" x2="475.30" y2="547.10" stroke="#111" stroke-width="0.8"/>
<line x1="438.90" y1="526.90" x2="475.30" y2="544.50" stroke="#111" stroke-width="0.8"/>
<line x1="438.90" y1="534.30" x2="475.30" y2="556.40" stroke="#111" stroke-width="0.8"/>
<line x1="438.90" y1="547.60" x2="475.30" y2="545.90" stroke="#111" stroke-width="0.8"/>
<line x1="438.90" y1="554.40" x2="475.30" y2="570.20" stroke="#111" stroke-width="0.8"/>
<circle cx="438.90" cy="508.00" r="2" fill="#0a9595"/>
<circle cx="438.90" cy="517.00" r="2" fill="#0a9595"/>
<circle cx="438.90" cy="519.10" r="2" fill="#0a9595"/>
<circle cx="438.90" cy="520.80" r="2" fill="#0a9595"/>
<circle cx="438.90" cy="522.60" r="2" fill="#0a9595"/>
<circle cx="438.90" cy="526.90" r="2" fill="#0a9595"/>
<circle cx="438.90" cy="534.30" r="2" fill="#0a9595"/>
<circle cx="438.90" cy="547.60" r="2" fill="#0a9595"/>
<circle cx="438.90" cy="554.40" r="2" fill="#0a9595"/>
<circle cx="475.30" cy="545.90" r="2" fill="#0b95fb"/>
<circle cx="475.30" cy="541.00" r="2" fill="#0b95fb"/>
<circle cx="475.30" cy="563.20" r="2" fill="#0b95fb"/>
<circle cx="475.30" cy="511.70" r="2" fill="#0b95fb"/>
<circle cx="475.30" cy="547.10" r="2" fill="#0b95fb"/>
<circle cx="475.30" cy="544.50" r="2" fill="#0b95fb"/>
<circle cx="475.30" cy="556.40" r="2" fill="#0b95fb"/>
<circle cx="475.30" cy="545.90" r="2" fill="#0b95fb"/>
<circle cx="475.30" cy="570.20" r="2" fill="#0b95fb"/>
<line x1="580.50" y1="484.62" x2="580.50" y2="611.50" stroke="#7a7a7a" stroke-width="1"/>
<line x1="576.00" y1="611.50" x2="664.60" y2="611.50" stroke="#7a7a7a" stroke-width="1"/>
<line x1="576.00" y1="484.62" x2="580.50" y2="484.62" stroke="#7a7a7a" stroke-width="1"/>
<text transform="translate(571.20,487.52) scale(1.040,1)" font-size="9.4" text-anchor="end" font-weight="normal" fill="#231f20">0.8</text>
<line x1="576.00" y1="516.34" x2="580.50" y2="516.34" stroke="#7a7a7a" stroke-width="1"/>
<text transform="translate(571.20,519.24) scale(1.040,1)" font-size="9.4" text-anchor="end" font-weight="normal" fill="#231f20">0.6</text>
<line x1="576.00" y1="548.06" x2="580.50" y2="548.06" stroke="#7a7a7a" stroke-width="1"/>
<text transform="translate(571.20,550.96) scale(1.040,1)" font-size="9.4" text-anchor="end" font-weight="normal" fill="#231f20">0.4</text>
<line x1="576.00" y1="579.78" x2="580.50" y2="579.78" stroke="#7a7a7a" stroke-width="1"/>
<text transform="translate(571.20,582.68) scale(1.040,1)" font-size="9.4" text-anchor="end" font-weight="normal" fill="#231f20">0.2</text>
<line x1="576.00" y1="611.50" x2="580.50" y2="611.50" stroke="#7a7a7a" stroke-width="1"/>
<text transform="translate(571.20,614.40) scale(1.040,1)" font-size="9.4" text-anchor="end" font-weight="normal" fill="#231f20">0</text>
<line x1="604.50" y1="611.50" x2="604.50" y2="615.70" stroke="#7a7a7a" stroke-width="1"/>
<line x1="640.60" y1="611.50" x2="640.60" y2="615.70" stroke="#7a7a7a" stroke-width="1"/>
<text transform="translate(605.50,622.70) rotate(-45) scale(1.069,1)" font-size="10" text-anchor="end" font-weight="normal" fill="#231f20">Baseline</text>
<text transform="translate(641.60,622.70) rotate(-45) scale(1.071,1)" font-size="10" text-anchor="end" font-weight="normal" fill="#231f20">Post-</text>
<text transform="translate(648.78,631.08) rotate(-45) scale(1.188,1)" font-size="10" text-anchor="end" font-weight="normal" fill="#231f20">altitude</text>
<text transform="translate(549.50,547.40) rotate(-90) scale(1.048,1)" font-size="10.2" text-anchor="middle" font-weight="normal" fill="#231f20"><tspan font-style="italic">RAB3D</tspan><tspan> (relative abundance)</tspan></text>
<polyline points="604.50,484.60 604.50,472.70 640.60,472.70 640.60,497.20" fill="none" stroke="#6a6a6a" stroke-width="0.9"/>
<text transform="translate(622.55,469.50) scale(1.160,1)" font-size="8.6" text-anchor="middle" font-weight="normal" fill="#231f20">0.011</text>
<line x1="604.50" y1="496.70" x2="640.60" y2="510.10" stroke="#111" stroke-width="0.8"/>
<line x1="604.50" y1="508.80" x2="640.60" y2="518.20" stroke="#111" stroke-width="0.8"/>
<line x1="604.50" y1="514.20" x2="640.60" y2="541.60" stroke="#111" stroke-width="0.8"/>
<line x1="604.50" y1="520.90" x2="640.60" y2="538.80" stroke="#111" stroke-width="0.8"/>
<line x1="604.50" y1="531.60" x2="640.60" y2="554.50" stroke="#111" stroke-width="0.8"/>
<line x1="604.50" y1="540.30" x2="640.60" y2="557.70" stroke="#111" stroke-width="0.8"/>
<line x1="604.50" y1="543.90" x2="640.60" y2="533.10" stroke="#111" stroke-width="0.8"/>
<line x1="604.50" y1="546.00" x2="640.60" y2="570.60" stroke="#111" stroke-width="0.8"/>
<circle cx="604.50" cy="496.70" r="2" fill="#0a9595"/>
<circle cx="604.50" cy="508.80" r="2" fill="#0a9595"/>
<circle cx="604.50" cy="514.20" r="2" fill="#0a9595"/>
<circle cx="604.50" cy="520.90" r="2" fill="#0a9595"/>
<circle cx="604.50" cy="531.60" r="2" fill="#0a9595"/>
<circle cx="604.50" cy="540.30" r="2" fill="#0a9595"/>
<circle cx="604.50" cy="543.90" r="2" fill="#0a9595"/>
<circle cx="604.50" cy="546.00" r="2" fill="#0a9595"/>
<circle cx="640.60" cy="510.10" r="2" fill="#0b95fb"/>
<circle cx="640.60" cy="518.20" r="2" fill="#0b95fb"/>
<circle cx="640.60" cy="541.60" r="2" fill="#0b95fb"/>
<circle cx="640.60" cy="538.80" r="2" fill="#0b95fb"/>
<circle cx="640.60" cy="554.50" r="2" fill="#0b95fb"/>
<circle cx="640.60" cy="557.70" r="2" fill="#0b95fb"/>
<circle cx="640.60" cy="533.10" r="2" fill="#0b95fb"/>
<circle cx="640.60" cy="570.60" r="2" fill="#0b95fb"/>
<text transform="translate(136.40,683.90)" font-size="11.1" text-anchor="start" font-weight="normal" fill="#231f20">Calcium signaling</text>
<line x1="74.50" y1="689.90" x2="287.00" y2="689.90" stroke="#8a8a8a" stroke-width="1"/>
<text transform="translate(0.10,715.90) scale(1.040,1)" font-size="17" text-anchor="start" font-weight="bold" fill="#000">i</text>
<line x1="66.40" y1="726.38" x2="66.40" y2="853.40" stroke="#7a7a7a" stroke-width="1"/>
<line x1="61.90" y1="853.40" x2="150.70" y2="853.40" stroke="#7a7a7a" stroke-width="1"/>
<line x1="61.90" y1="726.38" x2="66.40" y2="726.38" stroke="#7a7a7a" stroke-width="1"/>
<text transform="translate(57.30,729.28) scale(1.040,1)" font-size="9.4" text-anchor="end" font-weight="normal" fill="#231f20">0.6</text>
<line x1="61.90" y1="768.72" x2="66.40" y2="768.72" stroke="#7a7a7a" stroke-width="1"/>
<text transform="translate(57.30,771.62) scale(1.040,1)" font-size="9.4" text-anchor="end" font-weight="normal" fill="#231f20">0.4</text>
<line x1="61.90" y1="811.06" x2="66.40" y2="811.06" stroke="#7a7a7a" stroke-width="1"/>
<text transform="translate(57.30,813.96) scale(1.040,1)" font-size="9.4" text-anchor="end" font-weight="normal" fill="#231f20">0.2</text>
<line x1="61.90" y1="853.40" x2="66.40" y2="853.40" stroke="#7a7a7a" stroke-width="1"/>
<text transform="translate(57.30,856.30) scale(1.040,1)" font-size="9.4" text-anchor="end" font-weight="normal" fill="#231f20">0</text>
<line x1="89.80" y1="853.40" x2="89.80" y2="857.60" stroke="#7a7a7a" stroke-width="1"/>
<line x1="126.60" y1="853.40" x2="126.60" y2="857.60" stroke="#7a7a7a" stroke-width="1"/>
<text transform="translate(90.80,864.60) rotate(-45) scale(1.069,1)" font-size="10" text-anchor="end" font-weight="normal" fill="#231f20">Baseline</text>
<text transform="translate(127.60,864.60) rotate(-45) scale(1.071,1)" font-size="10" text-anchor="end" font-weight="normal" fill="#231f20">Post-</text>
<text transform="translate(134.78,872.98) rotate(-45) scale(1.188,1)" font-size="10" text-anchor="end" font-weight="normal" fill="#231f20">altitude</text>
<text transform="translate(34.60,789.40) rotate(-90) scale(1.048,1)" font-size="10.2" text-anchor="middle" font-weight="normal" fill="#231f20"><tspan font-style="italic">CALM1</tspan><tspan> (relative abundance)</tspan></text>
<polyline points="89.80,731.60 89.80,719.60 126.60,719.60 126.60,748.20" fill="none" stroke="#6a6a6a" stroke-width="0.9"/>
<text transform="translate(108.20,716.20) scale(1.160,1)" font-size="8.6" text-anchor="middle" font-weight="normal" fill="#231f20">0.009</text>
<line x1="89.80" y1="743.70" x2="126.60" y2="773.30" stroke="#111" stroke-width="0.8"/>
<line x1="89.80" y1="751.90" x2="126.60" y2="760.10" stroke="#111" stroke-width="0.8"/>
<line x1="89.80" y1="767.50" x2="126.60" y2="784.20" stroke="#111" stroke-width="0.8"/>
<line x1="89.80" y1="769.30" x2="126.60" y2="788.60" stroke="#111" stroke-width="0.8"/>
<line x1="89.80" y1="771.30" x2="126.60" y2="782.20" stroke="#111" stroke-width="0.8"/>
<line x1="89.80" y1="773.70" x2="126.60" y2="796.60" stroke="#111" stroke-width="0.8"/>
<line x1="89.80" y1="788.60" x2="126.60" y2="803.50" stroke="#111" stroke-width="0.8"/>
<line x1="89.80" y1="795.80" x2="126.60" y2="786.20" stroke="#111" stroke-width="0.8"/>
<circle cx="89.80" cy="743.70" r="2" fill="#0a9595"/>
<circle cx="89.80" cy="751.90" r="2" fill="#0a9595"/>
<circle cx="89.80" cy="767.50" r="2" fill="#0a9595"/>
<circle cx="89.80" cy="769.30" r="2" fill="#0a9595"/>
<circle cx="89.80" cy="771.30" r="2" fill="#0a9595"/>
<circle cx="89.80" cy="773.70" r="2" fill="#0a9595"/>
<circle cx="89.80" cy="788.60" r="2" fill="#0a9595"/>
<circle cx="89.80" cy="795.80" r="2" fill="#0a9595"/>
<circle cx="126.60" cy="773.30" r="2" fill="#0b95fb"/>
<circle cx="126.60" cy="760.10" r="2" fill="#0b95fb"/>
<circle cx="126.60" cy="784.20" r="2" fill="#0b95fb"/>
<circle cx="126.60" cy="788.60" r="2" fill="#0b95fb"/>
<circle cx="126.60" cy="782.20" r="2" fill="#0b95fb"/>
<circle cx="126.60" cy="796.60" r="2" fill="#0b95fb"/>
<circle cx="126.60" cy="803.50" r="2" fill="#0b95fb"/>
<circle cx="126.60" cy="786.20" r="2" fill="#0b95fb"/>
<line x1="241.30" y1="726.40" x2="241.30" y2="853.40" stroke="#7a7a7a" stroke-width="1"/>
<line x1="236.80" y1="853.40" x2="325.70" y2="853.40" stroke="#7a7a7a" stroke-width="1"/>
<line x1="236.80" y1="726.40" x2="241.30" y2="726.40" stroke="#7a7a7a" stroke-width="1"/>
<text transform="translate(232.30,729.30) scale(1.040,1)" font-size="9.4" text-anchor="end" font-weight="normal" fill="#231f20">0.5</text>
<line x1="236.80" y1="751.80" x2="241.30" y2="751.80" stroke="#7a7a7a" stroke-width="1"/>
<text transform="translate(232.30,754.70) scale(1.040,1)" font-size="9.4" text-anchor="end" font-weight="normal" fill="#231f20">0.4</text>
<line x1="236.80" y1="777.20" x2="241.30" y2="777.20" stroke="#7a7a7a" stroke-width="1"/>
<text transform="translate(232.30,780.10) scale(1.040,1)" font-size="9.4" text-anchor="end" font-weight="normal" fill="#231f20">0.3</text>
<line x1="236.80" y1="802.60" x2="241.30" y2="802.60" stroke="#7a7a7a" stroke-width="1"/>
<text transform="translate(232.30,805.50) scale(1.040,1)" font-size="9.4" text-anchor="end" font-weight="normal" fill="#231f20">0.2</text>
<line x1="236.80" y1="828.00" x2="241.30" y2="828.00" stroke="#7a7a7a" stroke-width="1"/>
<text transform="translate(232.30,830.90) scale(1.040,1)" font-size="9.4" text-anchor="end" font-weight="normal" fill="#231f20">0.1</text>
<line x1="236.80" y1="853.40" x2="241.30" y2="853.40" stroke="#7a7a7a" stroke-width="1"/>
<text transform="translate(232.30,856.30) scale(1.040,1)" font-size="9.4" text-anchor="end" font-weight="normal" fill="#231f20">0</text>
<line x1="265.10" y1="853.40" x2="265.10" y2="857.60" stroke="#7a7a7a" stroke-width="1"/>
<line x1="301.60" y1="853.40" x2="301.60" y2="857.60" stroke="#7a7a7a" stroke-width="1"/>
<text transform="translate(266.10,864.60) rotate(-45) scale(1.069,1)" font-size="10" text-anchor="end" font-weight="normal" fill="#231f20">Baseline</text>
<text transform="translate(302.60,864.60) rotate(-45) scale(1.071,1)" font-size="10" text-anchor="end" font-weight="normal" fill="#231f20">Post-</text>
<text transform="translate(309.78,872.98) rotate(-45) scale(1.188,1)" font-size="10" text-anchor="end" font-weight="normal" fill="#231f20">altitude</text>
<text transform="translate(210.30,789.50) rotate(-90) scale(1.064,1)" font-size="10.2" text-anchor="middle" font-weight="normal" fill="#231f20"><tspan font-style="italic">CALR</tspan><tspan> (relative abundance)</tspan></text>
<polyline points="265.10,738.30 265.10,726.30 301.60,726.30 301.60,749.30" fill="none" stroke="#6a6a6a" stroke-width="0.9"/>
<text transform="translate(283.35,723.60) scale(1.160,1)" font-size="8.6" text-anchor="middle" font-weight="normal" fill="#231f20">0.010</text>
<line x1="265.10" y1="750.40" x2="301.60" y2="770.70" stroke="#111" stroke-width="0.8"/>
<line x1="265.10" y1="753.60" x2="301.60" y2="795.70" stroke="#111" stroke-width="0.8"/>
<line x1="265.10" y1="760.20" x2="301.60" y2="762.00" stroke="#111" stroke-width="0.8"/>
<line x1="265.10" y1="760.20" x2="301.60" y2="788.20" stroke="#111" stroke-width="0.8"/>
<line x1="265.10" y1="769.00" x2="301.60" y2="809.50" stroke="#111" stroke-width="0.8"/>
<line x1="265.10" y1="776.60" x2="301.60" y2="782.50" stroke="#111" stroke-width="0.8"/>
<line x1="265.10" y1="785.40" x2="301.60" y2="789.80" stroke="#111" stroke-width="0.8"/>
<line x1="265.10" y1="794.60" x2="301.60" y2="810.60" stroke="#111" stroke-width="0.8"/>
<circle cx="265.10" cy="750.40" r="2" fill="#0a9595"/>
<circle cx="265.10" cy="753.60" r="2" fill="#0a9595"/>
<circle cx="265.10" cy="760.20" r="2" fill="#0a9595"/>
<circle cx="265.10" cy="760.20" r="2" fill="#0a9595"/>
<circle cx="265.10" cy="769.00" r="2" fill="#0a9595"/>
<circle cx="265.10" cy="776.60" r="2" fill="#0a9595"/>
<circle cx="265.10" cy="785.40" r="2" fill="#0a9595"/>
<circle cx="265.10" cy="794.60" r="2" fill="#0a9595"/>
<circle cx="301.60" cy="770.70" r="2" fill="#0b95fb"/>
<circle cx="301.60" cy="795.70" r="2" fill="#0b95fb"/>
<circle cx="301.60" cy="762.00" r="2" fill="#0b95fb"/>
<circle cx="301.60" cy="788.20" r="2" fill="#0b95fb"/>
<circle cx="301.60" cy="809.50" r="2" fill="#0b95fb"/>
<circle cx="301.60" cy="782.50" r="2" fill="#0b95fb"/>
<circle cx="301.60" cy="789.80" r="2" fill="#0b95fb"/>
<circle cx="301.60" cy="810.60" r="2" fill="#0b95fb"/>
<text transform="translate(457.00,684.10)" font-size="11.1" text-anchor="start" font-weight="normal" fill="#231f20">Inflammatory responses</text>
<line x1="410.20" y1="689.90" x2="622.00" y2="689.90" stroke="#8a8a8a" stroke-width="1"/>
<text transform="translate(357.50,715.60) scale(1.040,1)" font-size="17" text-anchor="start" font-weight="bold" fill="#000">j</text>
<line x1="415.00" y1="726.39" x2="415.00" y2="853.40" stroke="#7a7a7a" stroke-width="1"/>
<line x1="410.50" y1="853.40" x2="499.50" y2="853.40" stroke="#7a7a7a" stroke-width="1"/>
<line x1="410.50" y1="726.39" x2="415.00" y2="726.39" stroke="#7a7a7a" stroke-width="1"/>
<text transform="translate(405.90,729.29) scale(1.040,1)" font-size="9.4" text-anchor="end" font-weight="normal" fill="#231f20">1.5</text>
<line x1="410.50" y1="768.73" x2="415.00" y2="768.73" stroke="#7a7a7a" stroke-width="1"/>
<text transform="translate(405.90,771.63) scale(1.040,1)" font-size="9.4" text-anchor="end" font-weight="normal" fill="#231f20">1.0</text>
<line x1="410.50" y1="811.06" x2="415.00" y2="811.06" stroke="#7a7a7a" stroke-width="1"/>
<text transform="translate(405.90,813.96) scale(1.040,1)" font-size="9.4" text-anchor="end" font-weight="normal" fill="#231f20">0.5</text>
<line x1="410.50" y1="853.40" x2="415.00" y2="853.40" stroke="#7a7a7a" stroke-width="1"/>
<text transform="translate(405.90,856.30) scale(1.040,1)" font-size="9.4" text-anchor="end" font-weight="normal" fill="#231f20">0</text>
<line x1="438.90" y1="853.40" x2="438.90" y2="857.60" stroke="#7a7a7a" stroke-width="1"/>
<line x1="475.40" y1="853.40" x2="475.40" y2="857.60" stroke="#7a7a7a" stroke-width="1"/>
<text transform="translate(439.90,864.60) rotate(-45) scale(1.069,1)" font-size="10" text-anchor="end" font-weight="normal" fill="#231f20">Baseline</text>
<text transform="translate(476.40,864.60) rotate(-45) scale(1.071,1)" font-size="10" text-anchor="end" font-weight="normal" fill="#231f20">Post-</text>
<text transform="translate(483.58,872.98) rotate(-45) scale(1.188,1)" font-size="10" text-anchor="end" font-weight="normal" fill="#231f20">altitude</text>
<text transform="translate(384.50,789.70) rotate(-90) scale(1.049,1)" font-size="10.2" text-anchor="middle" font-weight="normal" fill="#231f20"><tspan font-style="italic">IFNAR2</tspan><tspan> (relative abundance)</tspan></text>
<polyline points="438.90,739.00 438.90,727.10 475.40,727.10 475.40,778.00" fill="none" stroke="#6a6a6a" stroke-width="0.9"/>
<text transform="translate(457.15,723.40) scale(1.160,1)" font-size="8.6" text-anchor="middle" font-weight="normal" fill="#231f20">0.031</text>
<line x1="438.90" y1="750.60" x2="475.40" y2="790.20" stroke="#111" stroke-width="0.8"/>
<line x1="438.90" y1="799.30" x2="475.40" y2="798.90" stroke="#111" stroke-width="0.8"/>
<line x1="438.90" y1="800.40" x2="475.40" y2="802.20" stroke="#111" stroke-width="0.8"/>
<line x1="438.90" y1="801.30" x2="475.40" y2="811.00" stroke="#111" stroke-width="0.8"/>
<line x1="438.90" y1="805.30" x2="475.40" y2="812.10" stroke="#111" stroke-width="0.8"/>
<line x1="438.90" y1="812.70" x2="475.40" y2="820.60" stroke="#111" stroke-width="0.8"/>
<line x1="438.90" y1="819.40" x2="475.40" y2="832.00" stroke="#111" stroke-width="0.8"/>
<circle cx="438.90" cy="750.60" r="2" fill="#0a9595"/>
<circle cx="438.90" cy="799.30" r="2" fill="#0a9595"/>
<circle cx="438.90" cy="800.40" r="2" fill="#0a9595"/>
<circle cx="438.90" cy="801.30" r="2" fill="#0a9595"/>
<circle cx="438.90" cy="805.30" r="2" fill="#0a9595"/>
<circle cx="438.90" cy="812.70" r="2" fill="#0a9595"/>
<circle cx="438.90" cy="819.40" r="2" fill="#0a9595"/>
<circle cx="475.40" cy="790.20" r="2" fill="#0b95fb"/>
<circle cx="475.40" cy="798.90" r="2" fill="#0b95fb"/>
<circle cx="475.40" cy="802.20" r="2" fill="#0b95fb"/>
<circle cx="475.40" cy="811.00" r="2" fill="#0b95fb"/>
<circle cx="475.40" cy="812.10" r="2" fill="#0b95fb"/>
<circle cx="475.40" cy="820.60" r="2" fill="#0b95fb"/>
<circle cx="475.40" cy="832.00" r="2" fill="#0b95fb"/>
<line x1="570.45" y1="726.40" x2="570.45" y2="853.40" stroke="#7a7a7a" stroke-width="1"/>
<line x1="565.95" y1="853.40" x2="654.40" y2="853.40" stroke="#7a7a7a" stroke-width="1"/>
<line x1="565.95" y1="726.40" x2="570.45" y2="726.40" stroke="#7a7a7a" stroke-width="1"/>
<text transform="translate(561.60,729.30) scale(1.040,1)" font-size="9.4" text-anchor="end" font-weight="normal" fill="#231f20">0.5</text>
<line x1="565.95" y1="751.80" x2="570.45" y2="751.80" stroke="#7a7a7a" stroke-width="1"/>
<text transform="translate(561.60,754.70) scale(1.040,1)" font-size="9.4" text-anchor="end" font-weight="normal" fill="#231f20">0.4</text>
<line x1="565.95" y1="777.20" x2="570.45" y2="777.20" stroke="#7a7a7a" stroke-width="1"/>
<text transform="translate(561.60,780.10) scale(1.040,1)" font-size="9.4" text-anchor="end" font-weight="normal" fill="#231f20">0.3</text>
<line x1="565.95" y1="802.60" x2="570.45" y2="802.60" stroke="#7a7a7a" stroke-width="1"/>
<text transform="translate(561.60,805.50) scale(1.040,1)" font-size="9.4" text-anchor="end" font-weight="normal" fill="#231f20">0.2</text>
<line x1="565.95" y1="828.00" x2="570.45" y2="828.00" stroke="#7a7a7a" stroke-width="1"/>
<text transform="translate(561.60,830.90) scale(1.040,1)" font-size="9.4" text-anchor="end" font-weight="normal" fill="#231f20">0.1</text>
<line x1="565.95" y1="853.40" x2="570.45" y2="853.40" stroke="#7a7a7a" stroke-width="1"/>
<text transform="translate(561.60,856.30) scale(1.040,1)" font-size="9.4" text-anchor="end" font-weight="normal" fill="#231f20">0</text>
<line x1="594.20" y1="853.40" x2="594.20" y2="857.60" stroke="#7a7a7a" stroke-width="1"/>
<line x1="630.30" y1="853.40" x2="630.30" y2="857.60" stroke="#7a7a7a" stroke-width="1"/>
<text transform="translate(595.20,864.60) rotate(-45) scale(1.069,1)" font-size="10" text-anchor="end" font-weight="normal" fill="#231f20">Baseline</text>
<text transform="translate(631.30,864.60) rotate(-45) scale(1.071,1)" font-size="10" text-anchor="end" font-weight="normal" fill="#231f20">Post-</text>
<text transform="translate(638.48,872.98) rotate(-45) scale(1.188,1)" font-size="10" text-anchor="end" font-weight="normal" fill="#231f20">altitude</text>
<text transform="translate(539.30,789.10) rotate(-90) scale(1.051,1)" font-size="10.2" text-anchor="middle" font-weight="normal" fill="#231f20"><tspan>CXCR2</tspan><tspan> (relative abundance)</tspan></text>
<polyline points="594.20,728.90 594.20,717.10 630.30,717.10 630.30,729.60" fill="none" stroke="#6a6a6a" stroke-width="0.9"/>
<text transform="translate(612.25,713.60) scale(1.160,1)" font-size="8.6" text-anchor="middle" font-weight="normal" fill="#231f20">0.002</text>
<line x1="594.20" y1="742.00" x2="630.30" y2="743.10" stroke="#111" stroke-width="0.8"/>
<line x1="594.20" y1="743.80" x2="630.30" y2="758.00" stroke="#111" stroke-width="0.8"/>
<line x1="594.20" y1="746.00" x2="630.30" y2="763.50" stroke="#111" stroke-width="0.8"/>
<line x1="594.20" y1="755.80" x2="630.30" y2="769.20" stroke="#111" stroke-width="0.8"/>
<line x1="594.20" y1="761.30" x2="630.30" y2="784.30" stroke="#111" stroke-width="0.8"/>
<line x1="594.20" y1="766.10" x2="630.30" y2="784.30" stroke="#111" stroke-width="0.8"/>
<line x1="594.20" y1="767.90" x2="630.30" y2="793.10" stroke="#111" stroke-width="0.8"/>
<line x1="594.20" y1="769.60" x2="630.30" y2="797.90" stroke="#111" stroke-width="0.8"/>
<circle cx="594.20" cy="742.00" r="2" fill="#0a9595"/>
<circle cx="594.20" cy="743.80" r="2" fill="#0a9595"/>
<circle cx="594.20" cy="746.00" r="2" fill="#0a9595"/>
<circle cx="594.20" cy="755.80" r="2" fill="#0a9595"/>
<circle cx="594.20" cy="761.30" r="2" fill="#0a9595"/>
<circle cx="594.20" cy="766.10" r="2" fill="#0a9595"/>
<circle cx="594.20" cy="767.90" r="2" fill="#0a9595"/>
<circle cx="594.20" cy="769.60" r="2" fill="#0a9595"/>
<circle cx="630.30" cy="743.10" r="2" fill="#0b95fb"/>
<circle cx="630.30" cy="758.00" r="2" fill="#0b95fb"/>
<circle cx="630.30" cy="763.50" r="2" fill="#0b95fb"/>
<circle cx="630.30" cy="769.20" r="2" fill="#0b95fb"/>
<circle cx="630.30" cy="784.30" r="2" fill="#0b95fb"/>
<circle cx="630.30" cy="784.30" r="2" fill="#0b95fb"/>
<circle cx="630.30" cy="793.10" r="2" fill="#0b95fb"/>
<circle cx="630.30" cy="797.90" r="2" fill="#0b95fb"/>
</svg>
</body></html>
